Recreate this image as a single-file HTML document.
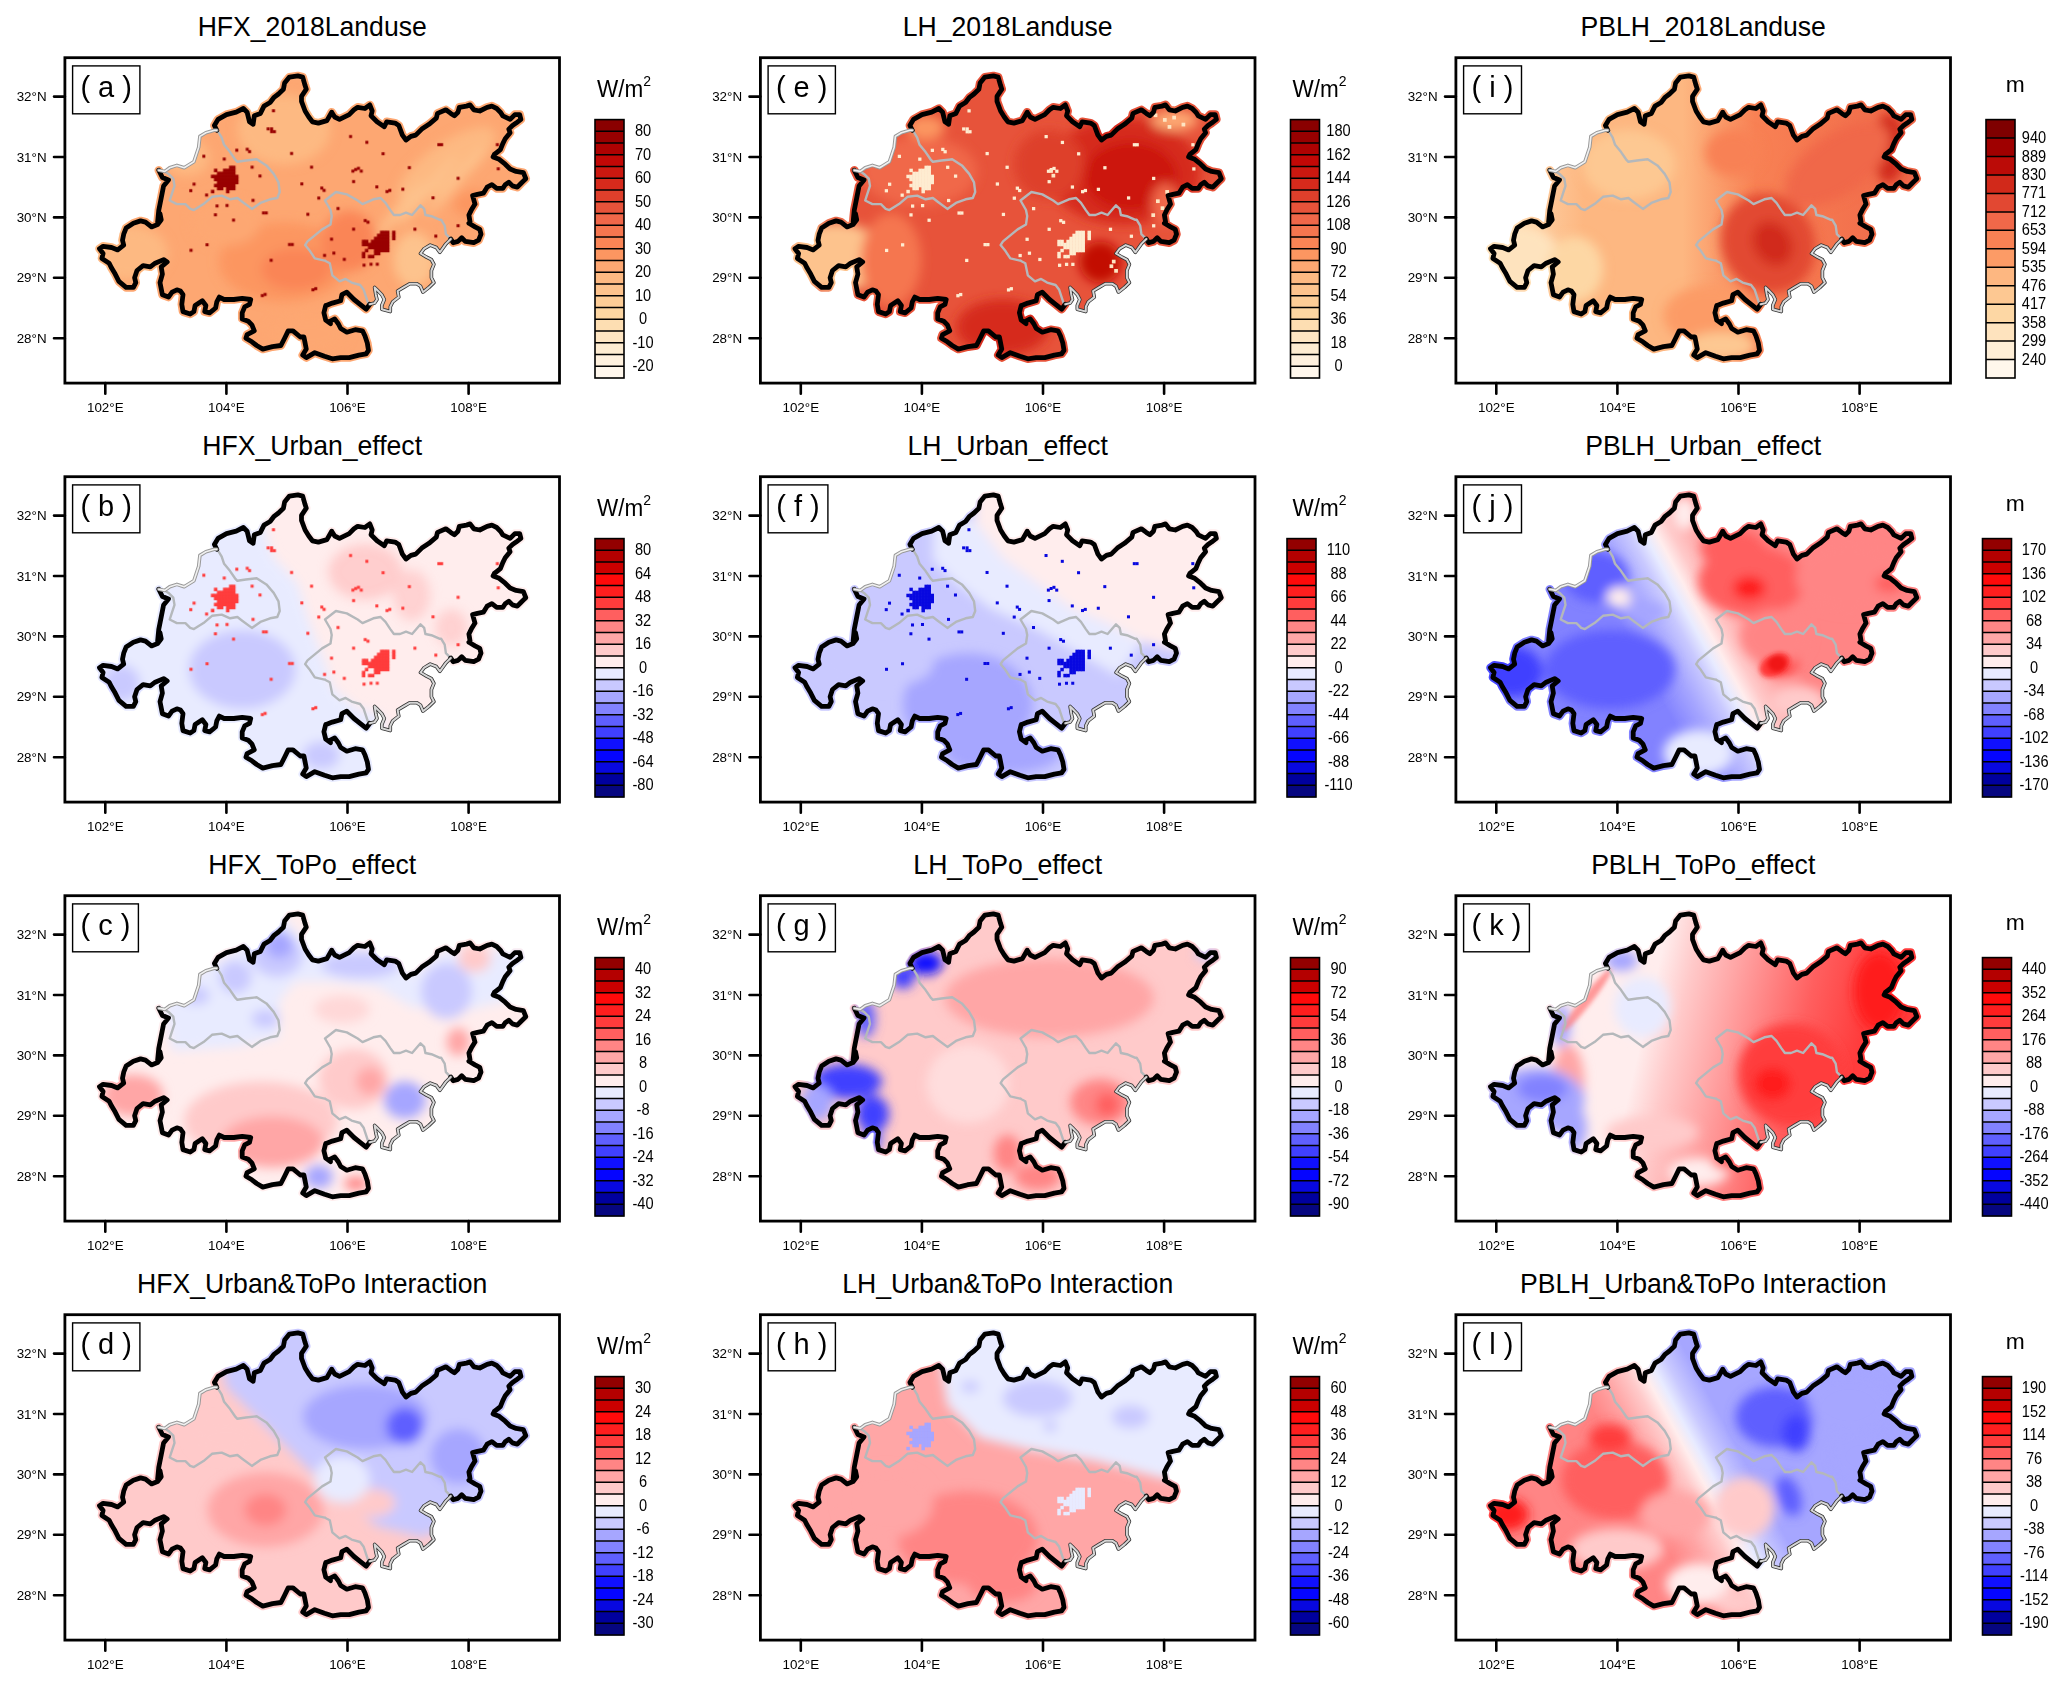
<!DOCTYPE html><html><head><meta charset="utf-8"><title>figure</title><style>html,body{margin:0;padding:0;background:#fff}svg{display:block}</style></head><body>
<svg width="2067" height="1687" viewBox="0 0 2067 1687">
<rect width="2067" height="1687" fill="#fff"/>
<defs>
<path id="reg" d="M216.8,130.3 L214.4,125.5 L218.0,119.4 L226.5,114.6 L236.2,112.2 L243.4,108.5 L247.1,112.2 L249.5,121.8 L253.1,124.3 L254.3,115.8 L260.4,113.4 L264.0,106.1 L270.1,102.5 L273.7,97.7 L278.5,94.0 L283.4,89.2 L284.6,83.1 L289.4,77.1 L297.9,75.9 L302.7,77.1 L305.1,85.6 L306.3,89.2 L301.5,96.4 L301.5,101.3 L305.1,111.0 L308.8,117.0 L312.4,121.8 L318.4,123.1 L326.9,120.6 L331.7,112.2 L331.7,112.2 L334.7,117.0 L339.5,119.4 L349.2,114.6 L354.0,109.8 L357.7,107.3 L364.9,108.5 L369.8,104.9 L372.2,111.0 L371.0,115.8 L377.0,121.8 L384.3,126.7 L386.7,121.8 L395.1,123.1 L398.8,125.5 L402.4,135.1 L406.0,140.0 L410.9,136.4 L415.7,135.1 L421.8,129.1 L429.0,124.3 L436.3,118.2 L437.5,113.4 L445.9,109.8 L450.8,113.4 L454.4,115.8 L458.0,112.2 L459.3,107.3 L466.5,106.1 L470.1,104.9 L473.8,109.8 L479.8,111.0 L487.1,107.3 L491.9,106.1 L496.7,108.5 L500.4,112.2 L502.8,115.8 L510.1,119.4 L514.9,114.6 L519.7,114.6 L520.9,119.4 L516.1,123.1 L512.5,125.5 L508.8,129.1 L510.1,132.7 L505.2,138.8 L502.8,143.6 L500.4,149.7 L494.3,154.5 L493.1,156.9 L499.2,159.3 L505.2,164.2 L510.1,169.0 L516.1,171.4 L523.4,172.6 L525.8,178.7 L520.9,183.5 L517.3,187.2 L512.5,185.9 L508.8,182.3 L505.2,184.7 L502.8,188.4 L496.7,188.4 L491.9,184.7 L487.1,187.2 L483.4,193.2 L477.4,194.4 L472.6,195.6 L475.0,204.1 L471.3,210.1 L468.9,215.0 L470.1,222.2 L468.9,223.3 L475.0,226.9 L479.8,229.4 L481.0,234.2 L478.6,240.2 L473.8,242.7 L465.3,241.4 L461.7,237.8 L458.0,241.4 L453.2,242.7 L450.8,239.0 L445.9,243.9 L439.9,252.3 L436.3,247.5 L430.2,245.1 L424.2,248.7 L420.5,253.5 L426.6,257.2 L431.4,259.6 L433.9,264.4 L431.4,270.5 L431.4,277.7 L433.9,282.6 L429.0,287.4 L423.0,292.2 L420.5,286.2 L416.9,283.8 L409.7,283.8 L403.6,287.4 L397.6,291.0 L398.8,297.1 L392.7,301.9 L390.3,306.8 L390.3,311.6 L381.8,309.2 L381.8,305.5 L384.3,299.5 L381.8,294.7 L377.0,289.8 L374.6,287.4 L375.8,294.7 L377.0,299.5 L374.6,303.1 L369.8,304.3 L366.1,309.2 L360.1,304.3 L354.0,299.5 L346.8,292.2 L341.9,294.7 L340.7,300.7 L332.3,303.1 L326.2,305.5 L325.7,305.5 L323.9,312.8 L325.7,320.1 L330.5,323.7 L329.8,321.3 L334.7,318.9 L338.3,323.7 L340.7,328.5 L346.8,332.2 L355.2,329.7 L362.5,330.9 L364.9,335.8 L367.3,343.0 L368.5,350.3 L366.1,353.9 L358.9,355.1 L349.2,357.6 L340.7,357.6 L332.3,358.8 L324.5,356.3 L314.8,352.7 L306.3,357.6 L302.7,355.1 L306.3,349.1 L305.1,343.0 L303.9,337.0 L300.3,337.0 L293.0,330.9 L288.2,330.9 L284.6,338.2 L280.9,345.5 L272.5,346.7 L262.8,349.1 L256.7,345.5 L251.9,341.8 L245.9,338.2 L247.1,334.6 L254.3,330.9 L251.9,324.9 L248.3,321.3 L242.2,318.9 L242.2,312.8 L244.7,306.8 L249.5,304.3 L250.7,299.5 L242.2,298.3 L233.8,299.5 L224.1,299.5 L219.3,297.1 L216.8,301.9 L215.6,308.0 L209.6,312.8 L204.7,311.6 L205.9,305.5 L202.3,300.7 L195.1,305.5 L193.9,311.6 L190.2,314.0 L183.0,311.6 L181.8,304.3 L183.0,294.7 L180.5,291.0 L176.9,289.8 L172.1,292.2 L168.5,297.1 L162.4,294.7 L160.0,282.6 L162.4,274.1 L161.2,266.8 L167.2,262.0 L163.6,259.6 L155.1,263.2 L150.3,266.8 L143.1,265.6 L137.0,270.5 L134.6,277.7 L135.8,282.6 L133.4,287.4 L126.1,287.4 L118.9,281.4 L115.2,274.1 L111.6,268.1 L109.2,263.2 L101.9,258.4 L103.1,253.5 L99.5,248.7 L103.1,246.3 L111.6,247.5 L117.7,249.9 L123.7,245.1 L122.5,240.2 L123.7,234.2 L126.1,228.1 L133.4,223.3 L140.6,220.9 L145.5,222.1 L151.5,226.9 L157.6,224.5 L161.2,219.7 L160.0,213.6 L157.6,222.2 L158.8,210.1 L161.2,198.0 L163.6,185.9 L168.5,179.9 L162.4,177.5 L158.8,170.2 L164.8,171.4 L169.7,167.8 L176.9,165.4 L184.2,167.8 L193.9,161.8 L196.3,154.5 L198.7,147.2 L199.9,136.4 L205.9,132.7 L214.4,130.3Z"/>
<clipPath id="clip"><use href="#reg"/></clipPath>
<mask id="fr" maskUnits="userSpaceOnUse" x="0" y="0" width="700" height="420"><use href="#reg" fill="#fff"/><g fill="none" stroke="#fff" stroke-width="8.5" stroke-linejoin="round" stroke-linecap="round"><polyline points="216.8,130.3 214.4,125.5 218.0,119.4 226.5,114.6 236.2,112.2 243.4,108.5 247.1,112.2 249.5,121.8 253.1,124.3 254.3,115.8 260.4,113.4 264.0,106.1 270.1,102.5 273.7,97.7 278.5,94.0 283.4,89.2 284.6,83.1 289.4,77.1 297.9,75.9 302.7,77.1 305.1,85.6 306.3,89.2 301.5,96.4 301.5,101.3 305.1,111.0 308.8,117.0 312.4,121.8 318.4,123.1 326.9,120.6 331.7,112.2 331.7,112.2 334.7,117.0 339.5,119.4 349.2,114.6 354.0,109.8 357.7,107.3 364.9,108.5 369.8,104.9 372.2,111.0 371.0,115.8 377.0,121.8 384.3,126.7 386.7,121.8 395.1,123.1 398.8,125.5 402.4,135.1 406.0,140.0 410.9,136.4 415.7,135.1 421.8,129.1 429.0,124.3 436.3,118.2 437.5,113.4 445.9,109.8 450.8,113.4 454.4,115.8 458.0,112.2 459.3,107.3 466.5,106.1 470.1,104.9 473.8,109.8 479.8,111.0 487.1,107.3 491.9,106.1 496.7,108.5 500.4,112.2 502.8,115.8 510.1,119.4 514.9,114.6 519.7,114.6 520.9,119.4 516.1,123.1 512.5,125.5 508.8,129.1 510.1,132.7 505.2,138.8 502.8,143.6 500.4,149.7 494.3,154.5 493.1,156.9 499.2,159.3 505.2,164.2 510.1,169.0 516.1,171.4 523.4,172.6 525.8,178.7 520.9,183.5 517.3,187.2 512.5,185.9 508.8,182.3 505.2,184.7 502.8,188.4 496.7,188.4 491.9,184.7 487.1,187.2 483.4,193.2 477.4,194.4 472.6,195.6 475.0,204.1 471.3,210.1 468.9,215.0 470.1,222.2 468.9,223.3 475.0,226.9 479.8,229.4 481.0,234.2 478.6,240.2 473.8,242.7 465.3,241.4 461.7,237.8 458.0,241.4 453.2,242.7 450.8,239.0"/><polyline points="369.8,304.3 366.1,309.2 360.1,304.3 354.0,299.5 346.8,292.2 341.9,294.7 340.7,300.7 332.3,303.1 326.2,305.5 325.7,305.5 323.9,312.8 325.7,320.1 330.5,323.7 329.8,321.3 334.7,318.9 338.3,323.7 340.7,328.5 346.8,332.2 355.2,329.7 362.5,330.9 364.9,335.8 367.3,343.0 368.5,350.3 366.1,353.9 358.9,355.1 349.2,357.6 340.7,357.6 332.3,358.8 324.5,356.3 314.8,352.7 306.3,357.6 302.7,355.1 306.3,349.1 305.1,343.0 303.9,337.0 300.3,337.0 293.0,330.9 288.2,330.9 284.6,338.2 280.9,345.5 272.5,346.7 262.8,349.1 256.7,345.5 251.9,341.8 245.9,338.2 247.1,334.6 254.3,330.9 251.9,324.9 248.3,321.3 242.2,318.9 242.2,312.8 244.7,306.8 249.5,304.3 250.7,299.5 242.2,298.3 233.8,299.5 224.1,299.5 219.3,297.1 216.8,301.9 215.6,308.0 209.6,312.8 204.7,311.6 205.9,305.5 202.3,300.7 195.1,305.5 193.9,311.6 190.2,314.0 183.0,311.6 181.8,304.3 183.0,294.7 180.5,291.0 176.9,289.8 172.1,292.2 168.5,297.1 162.4,294.7 160.0,282.6 162.4,274.1 161.2,266.8 167.2,262.0 163.6,259.6 155.1,263.2 150.3,266.8 143.1,265.6 137.0,270.5 134.6,277.7 135.8,282.6 133.4,287.4 126.1,287.4 118.9,281.4 115.2,274.1 111.6,268.1 109.2,263.2 101.9,258.4 103.1,253.5 99.5,248.7 103.1,246.3 111.6,247.5 117.7,249.9 123.7,245.1 122.5,240.2 123.7,234.2 126.1,228.1 133.4,223.3 140.6,220.9 145.5,222.1 151.5,226.9 157.6,224.5 161.2,219.7 160.0,213.6 157.6,222.2 158.8,210.1 161.2,198.0 163.6,185.9 168.5,179.9 162.4,177.5 158.8,170.2"/></g></mask>
<filter id="bl" x="-20%" y="-20%" width="140%" height="140%"><feGaussianBlur stdDeviation="22"/></filter><filter id="bl2" x="-20%" y="-20%" width="140%" height="140%"><feGaussianBlur stdDeviation="10"/></filter><linearGradient id="gi" gradientUnits="userSpaceOnUse" x1="100" y1="0" x2="1950" y2="0"><stop offset="0" stop-color="#fee3be"/><stop offset="0.22" stop-color="#fdb781"/><stop offset="0.45" stop-color="#fdb781"/><stop offset="0.62" stop-color="#f88154"/><stop offset="1" stop-color="#f06849"/></linearGradient><linearGradient id="gk" gradientUnits="userSpaceOnUse" x1="780" y1="500" x2="1900" y2="760"><stop offset="0" stop-color="#ffeded"/><stop offset="0.12" stop-color="#ffcaca"/><stop offset="0.28" stop-color="#ffa6a6"/><stop offset="0.42" stop-color="#ff8585"/><stop offset="0.58" stop-color="#ff5f5f"/><stop offset="0.8" stop-color="#ff3c3c"/><stop offset="1" stop-color="#ff3c3c"/></linearGradient><linearGradient id="gj" gradientUnits="userSpaceOnUse" x1="740" y1="760" x2="1260" y2="480"><stop offset="0" stop-color="#8282ff"/><stop offset="0.2" stop-color="#a6a6ff"/><stop offset="0.36" stop-color="#c9c9ff"/><stop offset="0.46" stop-color="#e8ebff"/><stop offset="0.54" stop-color="#ffeded"/><stop offset="0.64" stop-color="#ffcaca"/><stop offset="0.8" stop-color="#ffa6a6"/><stop offset="1" stop-color="#ff8585"/></linearGradient><linearGradient id="gl" gradientUnits="userSpaceOnUse" x1="760" y1="800" x2="1280" y2="520"><stop offset="0" stop-color="#ff8585"/><stop offset="0.2" stop-color="#ffa6a6"/><stop offset="0.36" stop-color="#ffcaca"/><stop offset="0.46" stop-color="#ffeded"/><stop offset="0.54" stop-color="#e8ebff"/><stop offset="0.64" stop-color="#c9c9ff"/><stop offset="0.8" stop-color="#a6a6ff"/><stop offset="1" stop-color="#a6a6ff"/></linearGradient>
<g id="lines" fill="none" stroke-linejoin="round" stroke-linecap="round">
<polyline points="218.0,131.5 221.7,137.6 224.1,144.8 230.1,152.1 235.0,159.3 237.4,161.8 245.9,160.5 256.7,159.3 266.4,165.4 273.7,173.9 278.5,182.3 279.7,192.0 277.3,198.0 270.1,199.3 260.4,202.9 251.9,208.9 242.2,201.7 237.4,198.0 230.1,199.3 221.7,195.6 212.0,196.8 203.5,204.1 193.9,210.1 190.2,208.9 185.4,204.1 176.9,204.1 169.7,200.5 172.1,193.2 174.5,185.9 173.3,178.7 168.5,173.9 164.8,171.4" stroke="#b4b8bb" stroke-width="2.4"/>
<polyline points="368.5,304.3 366.1,297.1 363.7,289.8 360.1,285.0 351.6,282.6 345.6,278.9 339.5,281.4 332.3,275.3 329.8,263.2 325.0,260.8 325.7,260.8 314.8,258.4 310.0,251.1 305.1,245.1 307.5,241.4 314.8,235.4 322.1,229.4 330.5,224.5 331.7,216.0 330.5,210.0 325.0,200.5 335.9,192.0 346.8,194.4 357.7,200.5 362.5,204.1 373.4,199.3 380.6,198.0 385.5,202.9 390.3,210.1 393.9,215.0 400.0,215.0 406.0,212.6 412.1,215.0 420.5,205.3 424.2,208.9 425.4,215.0 431.4,216.2 439.9,219.8 441.1,219.7 444.7,225.7 445.9,234.2 449.6,237.8 450.8,239.0" stroke="#b4b8bb" stroke-width="2.4"/>
<polyline points="216.8,130.3 214.4,125.5 218.0,119.4 226.5,114.6 236.2,112.2 243.4,108.5 247.1,112.2 249.5,121.8 253.1,124.3 254.3,115.8 260.4,113.4 264.0,106.1 270.1,102.5 273.7,97.7 278.5,94.0 283.4,89.2 284.6,83.1 289.4,77.1 297.9,75.9 302.7,77.1 305.1,85.6 306.3,89.2 301.5,96.4 301.5,101.3 305.1,111.0 308.8,117.0 312.4,121.8 318.4,123.1 326.9,120.6 331.7,112.2 331.7,112.2 334.7,117.0 339.5,119.4 349.2,114.6 354.0,109.8 357.7,107.3 364.9,108.5 369.8,104.9 372.2,111.0 371.0,115.8 377.0,121.8 384.3,126.7 386.7,121.8 395.1,123.1 398.8,125.5 402.4,135.1 406.0,140.0 410.9,136.4 415.7,135.1 421.8,129.1 429.0,124.3 436.3,118.2 437.5,113.4 445.9,109.8 450.8,113.4 454.4,115.8 458.0,112.2 459.3,107.3 466.5,106.1 470.1,104.9 473.8,109.8 479.8,111.0 487.1,107.3 491.9,106.1 496.7,108.5 500.4,112.2 502.8,115.8 510.1,119.4 514.9,114.6 519.7,114.6 520.9,119.4 516.1,123.1 512.5,125.5 508.8,129.1 510.1,132.7 505.2,138.8 502.8,143.6 500.4,149.7 494.3,154.5 493.1,156.9 499.2,159.3 505.2,164.2 510.1,169.0 516.1,171.4 523.4,172.6 525.8,178.7 520.9,183.5 517.3,187.2 512.5,185.9 508.8,182.3 505.2,184.7 502.8,188.4 496.7,188.4 491.9,184.7 487.1,187.2 483.4,193.2 477.4,194.4 472.6,195.6 475.0,204.1 471.3,210.1 468.9,215.0 470.1,222.2 468.9,223.3 475.0,226.9 479.8,229.4 481.0,234.2 478.6,240.2 473.8,242.7 465.3,241.4 461.7,237.8 458.0,241.4 453.2,242.7 450.8,239.0" stroke="#000" stroke-width="4.8"/>
<polyline points="369.8,304.3 366.1,309.2 360.1,304.3 354.0,299.5 346.8,292.2 341.9,294.7 340.7,300.7 332.3,303.1 326.2,305.5 325.7,305.5 323.9,312.8 325.7,320.1 330.5,323.7 329.8,321.3 334.7,318.9 338.3,323.7 340.7,328.5 346.8,332.2 355.2,329.7 362.5,330.9 364.9,335.8 367.3,343.0 368.5,350.3 366.1,353.9 358.9,355.1 349.2,357.6 340.7,357.6 332.3,358.8 324.5,356.3 314.8,352.7 306.3,357.6 302.7,355.1 306.3,349.1 305.1,343.0 303.9,337.0 300.3,337.0 293.0,330.9 288.2,330.9 284.6,338.2 280.9,345.5 272.5,346.7 262.8,349.1 256.7,345.5 251.9,341.8 245.9,338.2 247.1,334.6 254.3,330.9 251.9,324.9 248.3,321.3 242.2,318.9 242.2,312.8 244.7,306.8 249.5,304.3 250.7,299.5 242.2,298.3 233.8,299.5 224.1,299.5 219.3,297.1 216.8,301.9 215.6,308.0 209.6,312.8 204.7,311.6 205.9,305.5 202.3,300.7 195.1,305.5 193.9,311.6 190.2,314.0 183.0,311.6 181.8,304.3 183.0,294.7 180.5,291.0 176.9,289.8 172.1,292.2 168.5,297.1 162.4,294.7 160.0,282.6 162.4,274.1 161.2,266.8 167.2,262.0 163.6,259.6 155.1,263.2 150.3,266.8 143.1,265.6 137.0,270.5 134.6,277.7 135.8,282.6 133.4,287.4 126.1,287.4 118.9,281.4 115.2,274.1 111.6,268.1 109.2,263.2 101.9,258.4 103.1,253.5 99.5,248.7 103.1,246.3 111.6,247.5 117.7,249.9 123.7,245.1 122.5,240.2 123.7,234.2 126.1,228.1 133.4,223.3 140.6,220.9 145.5,222.1 151.5,226.9 157.6,224.5 161.2,219.7 160.0,213.6 157.6,222.2 158.8,210.1 161.2,198.0 163.6,185.9 168.5,179.9 162.4,177.5 158.8,170.2" stroke="#000" stroke-width="4.8"/>
<polyline points="450.8,239.0 445.9,243.9 439.9,252.3 436.3,247.5 430.2,245.1 424.2,248.7 420.5,253.5 426.6,257.2 431.4,259.6 433.9,264.4 431.4,270.5 431.4,277.7 433.9,282.6 429.0,287.4 423.0,292.2 420.5,286.2 416.9,283.8 409.7,283.8 403.6,287.4 397.6,291.0 398.8,297.1 392.7,301.9 390.3,306.8 390.3,311.6 381.8,309.2 381.8,305.5 384.3,299.5 381.8,294.7 377.0,289.8 374.6,287.4 375.8,294.7 377.0,299.5 374.6,303.1 369.8,304.3" stroke="#333" stroke-width="3.6"/>
<polyline points="450.8,239.0 445.9,243.9 439.9,252.3 436.3,247.5 430.2,245.1 424.2,248.7 420.5,253.5 426.6,257.2 431.4,259.6 433.9,264.4 431.4,270.5 431.4,277.7 433.9,282.6 429.0,287.4 423.0,292.2 420.5,286.2 416.9,283.8 409.7,283.8 403.6,287.4 397.6,291.0 398.8,297.1 392.7,301.9 390.3,306.8 390.3,311.6 381.8,309.2 381.8,305.5 384.3,299.5 381.8,294.7 377.0,289.8 374.6,287.4 375.8,294.7 377.0,299.5 374.6,303.1 369.8,304.3" stroke="#d6d6d6" stroke-width="2"/>
<polyline points="158.8,170.2 164.8,171.4 169.7,167.8 176.9,165.4 184.2,167.8 193.9,161.8 196.3,154.5 198.7,147.2 199.9,136.4 205.9,132.7 214.4,130.3 216.8,130.3" stroke="#999" stroke-width="3.6"/>
<polyline points="158.8,170.2 164.8,171.4 169.7,167.8 176.9,165.4 184.2,167.8 193.9,161.8 196.3,154.5 198.7,147.2 199.9,136.4 205.9,132.7 214.4,130.3 216.8,130.3" stroke="#f0f0f0" stroke-width="1.6"/>
</g>
</defs>
<g transform="translate(0.0,0.0)">
<text transform="translate(312.2,36.1) scale(1,1.06)" text-anchor="middle" font-size="26.6" font-family="Liberation Sans, Arial, Helvetica, sans-serif">HFX_2018Landuse</text>
<g mask="url(#fr)"><g transform="translate(75,60) scale(0.23223)"><rect x="0" y="0" width="2100" height="1400" fill="#fda772"/><g filter="url(#bl)"><ellipse cx="900" cy="300" rx="200" ry="150" fill="#fdb982"/><ellipse cx="480" cy="420" rx="100" ry="80" fill="#fdb982"/><ellipse cx="230" cy="830" rx="170" ry="120" fill="#fdb982"/><ellipse cx="900" cy="870" rx="280" ry="170" fill="#fc9661"/><ellipse cx="950" cy="900" rx="150" ry="90" fill="#fa8556"/><ellipse cx="1180" cy="780" rx="120" ry="130" fill="#fa8556"/><ellipse cx="1460" cy="860" rx="90" ry="120" fill="#fdc38d"/><ellipse cx="1600" cy="450" rx="250" ry="90" fill="#fdb982" transform="rotate(-35 1600 450)"/><ellipse cx="1720" cy="620" rx="90" ry="60" fill="#fc9661"/><ellipse cx="1520" cy="560" rx="200" ry="22" fill="#fdc38d" transform="rotate(-50 1520 560)"/><ellipse cx="1640" cy="520" rx="200" ry="20" fill="#fdc38d" transform="rotate(-50 1640 520)"/><ellipse cx="1400" cy="640" rx="160" ry="20" fill="#fdc38d" transform="rotate(-50 1400 640)"/><ellipse cx="1000" cy="1180" rx="170" ry="80" fill="#fda772"/><ellipse cx="650" cy="700" rx="150" ry="100" fill="#fda772"/></g><g fill="#990000"><rect x="663" y="455" width="15" height="15"/><rect x="676" y="455" width="15" height="15"/><rect x="598" y="468" width="15" height="15"/><rect x="637" y="468" width="15" height="15"/><rect x="650" y="468" width="15" height="15"/><rect x="663" y="468" width="15" height="15"/><rect x="676" y="468" width="15" height="15"/><rect x="611" y="481" width="15" height="15"/><rect x="624" y="481" width="15" height="15"/><rect x="637" y="481" width="15" height="15"/><rect x="650" y="481" width="15" height="15"/><rect x="663" y="481" width="15" height="15"/><rect x="676" y="481" width="15" height="15"/><rect x="585" y="494" width="15" height="15"/><rect x="598" y="494" width="15" height="15"/><rect x="611" y="494" width="15" height="15"/><rect x="624" y="494" width="15" height="15"/><rect x="637" y="494" width="15" height="15"/><rect x="650" y="494" width="15" height="15"/><rect x="663" y="494" width="15" height="15"/><rect x="676" y="494" width="15" height="15"/><rect x="689" y="494" width="15" height="15"/><rect x="598" y="507" width="15" height="15"/><rect x="611" y="507" width="15" height="15"/><rect x="624" y="507" width="15" height="15"/><rect x="637" y="507" width="15" height="15"/><rect x="650" y="507" width="15" height="15"/><rect x="663" y="507" width="15" height="15"/><rect x="676" y="507" width="15" height="15"/><rect x="689" y="507" width="15" height="15"/><rect x="611" y="520" width="15" height="15"/><rect x="624" y="520" width="15" height="15"/><rect x="637" y="520" width="15" height="15"/><rect x="650" y="520" width="15" height="15"/><rect x="663" y="520" width="15" height="15"/><rect x="676" y="520" width="15" height="15"/><rect x="689" y="520" width="15" height="15"/><rect x="598" y="533" width="15" height="15"/><rect x="611" y="533" width="15" height="15"/><rect x="624" y="533" width="15" height="15"/><rect x="637" y="533" width="15" height="15"/><rect x="650" y="533" width="15" height="15"/><rect x="663" y="533" width="15" height="15"/><rect x="676" y="533" width="15" height="15"/><rect x="611" y="546" width="15" height="15"/><rect x="624" y="546" width="15" height="15"/><rect x="650" y="546" width="15" height="15"/><rect x="663" y="546" width="15" height="15"/><rect x="676" y="546" width="15" height="15"/><rect x="585" y="559" width="15" height="15"/><rect x="650" y="559" width="15" height="15"/><rect x="1313" y="735" width="15" height="15"/><rect x="1326" y="735" width="15" height="15"/><rect x="1339" y="735" width="15" height="15"/><rect x="1365" y="735" width="15" height="15"/><rect x="1300" y="748" width="15" height="15"/><rect x="1313" y="748" width="15" height="15"/><rect x="1326" y="748" width="15" height="15"/><rect x="1339" y="748" width="15" height="15"/><rect x="1365" y="748" width="15" height="15"/><rect x="1287" y="761" width="15" height="15"/><rect x="1300" y="761" width="15" height="15"/><rect x="1313" y="761" width="15" height="15"/><rect x="1326" y="761" width="15" height="15"/><rect x="1339" y="761" width="15" height="15"/><rect x="1365" y="761" width="15" height="15"/><rect x="1235" y="774" width="15" height="15"/><rect x="1248" y="774" width="15" height="15"/><rect x="1274" y="774" width="15" height="15"/><rect x="1287" y="774" width="15" height="15"/><rect x="1300" y="774" width="15" height="15"/><rect x="1313" y="774" width="15" height="15"/><rect x="1326" y="774" width="15" height="15"/><rect x="1339" y="774" width="15" height="15"/><rect x="1235" y="787" width="15" height="15"/><rect x="1248" y="787" width="15" height="15"/><rect x="1261" y="787" width="15" height="15"/><rect x="1274" y="787" width="15" height="15"/><rect x="1287" y="787" width="15" height="15"/><rect x="1300" y="787" width="15" height="15"/><rect x="1313" y="787" width="15" height="15"/><rect x="1326" y="787" width="15" height="15"/><rect x="1339" y="787" width="15" height="15"/><rect x="1261" y="800" width="15" height="15"/><rect x="1274" y="800" width="15" height="15"/><rect x="1287" y="800" width="15" height="15"/><rect x="1300" y="800" width="15" height="15"/><rect x="1313" y="800" width="15" height="15"/><rect x="1326" y="800" width="15" height="15"/><rect x="1339" y="800" width="15" height="15"/><rect x="1248" y="813" width="15" height="15"/><rect x="1287" y="813" width="15" height="15"/><rect x="1300" y="813" width="15" height="15"/><rect x="1313" y="813" width="15" height="15"/><rect x="1326" y="813" width="15" height="15"/><rect x="1339" y="813" width="15" height="15"/><rect x="1235" y="826" width="15" height="15"/><rect x="1287" y="826" width="15" height="15"/><rect x="1300" y="826" width="15" height="15"/><rect x="1235" y="839" width="15" height="15"/><rect x="1261" y="839" width="15" height="15"/><rect x="1274" y="839" width="15" height="15"/></g><g fill="#990000"><rect x="825" y="290" width="13" height="13"/><rect x="840" y="290" width="13" height="13"/><rect x="840" y="302" width="13" height="13"/><rect x="852" y="302" width="13" height="13"/><rect x="735" y="378" width="13" height="13"/><rect x="745" y="388" width="13" height="13"/><rect x="690" y="382" width="13" height="13"/><rect x="636" y="420" width="13" height="13"/><rect x="548" y="408" width="13" height="13"/><rect x="756" y="455" width="13" height="13"/><rect x="790" y="493" width="13" height="13"/><rect x="506" y="528" width="13" height="13"/><rect x="492" y="556" width="13" height="13"/><rect x="560" y="575" width="13" height="13"/><rect x="605" y="622" width="13" height="13"/><rect x="648" y="620" width="13" height="13"/><rect x="598" y="660" width="13" height="13"/><rect x="676" y="683" width="13" height="13"/><rect x="760" y="598" width="13" height="13"/><rect x="805" y="652" width="13" height="13"/><rect x="817" y="652" width="13" height="13"/><rect x="926" y="396" width="13" height="13"/><rect x="1012" y="455" width="13" height="13"/><rect x="970" y="527" width="13" height="13"/><rect x="1056" y="545" width="13" height="13"/><rect x="1066" y="555" width="13" height="13"/><rect x="1043" y="588" width="13" height="13"/><rect x="996" y="658" width="13" height="13"/><rect x="1126" y="633" width="13" height="13"/><rect x="1180" y="323" width="13" height="13"/><rect x="1250" y="348" width="13" height="13"/><rect x="1320" y="397" width="13" height="13"/><rect x="1190" y="472" width="13" height="13"/><rect x="1202" y="465" width="13" height="13"/><rect x="1214" y="460" width="13" height="13"/><rect x="1226" y="472" width="13" height="13"/><rect x="1193" y="517" width="13" height="13"/><rect x="1293" y="540" width="13" height="13"/><rect x="1337" y="560" width="13" height="13"/><rect x="1349" y="555" width="13" height="13"/><rect x="1405" y="550" width="13" height="13"/><rect x="1433" y="457" width="13" height="13"/><rect x="1560" y="358" width="13" height="13"/><rect x="1572" y="358" width="13" height="13"/><rect x="1812" y="358" width="13" height="13"/><rect x="1816" y="462" width="13" height="13"/><rect x="1643" y="503" width="13" height="13"/><rect x="1243" y="685" width="13" height="13"/><rect x="1255" y="692" width="13" height="13"/><rect x="1193" y="722" width="13" height="13"/><rect x="1457" y="722" width="13" height="13"/><rect x="1547" y="752" width="13" height="13"/><rect x="1643" y="707" width="13" height="13"/><rect x="1098" y="765" width="13" height="13"/><rect x="1068" y="835" width="13" height="13"/><rect x="1108" y="825" width="13" height="13"/><rect x="1153" y="852" width="13" height="13"/><rect x="1238" y="877" width="13" height="13"/><rect x="1268" y="873" width="13" height="13"/><rect x="1295" y="873" width="13" height="13"/><rect x="917" y="788" width="13" height="13"/><rect x="929" y="788" width="13" height="13"/><rect x="838" y="856" width="13" height="13"/><rect x="562" y="789" width="13" height="13"/><rect x="493" y="813" width="13" height="13"/><rect x="1018" y="983" width="13" height="13"/><rect x="1030" y="978" width="13" height="13"/><rect x="800" y="1008" width="13" height="13"/><rect x="812" y="1003" width="13" height="13"/><rect x="1535" y="587" width="13" height="13"/><rect x="848" y="212" width="13" height="13"/></g></g></g>
<use href="#lines"/>
<rect x="64.9" y="57.7" width="494.6" height="325.4" fill="none" stroke="#000" stroke-width="2.8"/>
<rect x="72.6" y="65.9" width="67.3" height="47.9" fill="#fff" stroke="#000" stroke-width="1.4"/>
<text x="106.2" y="97.3" text-anchor="middle" font-size="29" font-family="Liberation Sans, Arial, Helvetica, sans-serif" xml:space="preserve">( a )</text>
<path d="M54,96.6H64.9M54,157.0H64.9M54,217.4H64.9M54,277.8H64.9M54,338.2H64.9M105.3,383.1V393.7M226.4,383.1V393.7M347.5,383.1V393.7M468.6,383.1V393.7" stroke="#000" stroke-width="2.6" stroke-linecap="round"/>
<text x="46.6" y="101.2" text-anchor="end" font-size="13.4" font-family="Liberation Sans, Arial, Helvetica, sans-serif">32°N</text>
<text x="46.6" y="161.6" text-anchor="end" font-size="13.4" font-family="Liberation Sans, Arial, Helvetica, sans-serif">31°N</text>
<text x="46.6" y="222.0" text-anchor="end" font-size="13.4" font-family="Liberation Sans, Arial, Helvetica, sans-serif">30°N</text>
<text x="46.6" y="282.4" text-anchor="end" font-size="13.4" font-family="Liberation Sans, Arial, Helvetica, sans-serif">29°N</text>
<text x="46.6" y="342.8" text-anchor="end" font-size="13.4" font-family="Liberation Sans, Arial, Helvetica, sans-serif">28°N</text>
<text x="105.3" y="412.4" text-anchor="middle" font-size="13.4" font-family="Liberation Sans, Arial, Helvetica, sans-serif">102°E</text>
<text x="226.4" y="412.4" text-anchor="middle" font-size="13.4" font-family="Liberation Sans, Arial, Helvetica, sans-serif">104°E</text>
<text x="347.5" y="412.4" text-anchor="middle" font-size="13.4" font-family="Liberation Sans, Arial, Helvetica, sans-serif">106°E</text>
<text x="468.6" y="412.4" text-anchor="middle" font-size="13.4" font-family="Liberation Sans, Arial, Helvetica, sans-serif">108°E</text>
<rect x="595.0" y="366.25" width="29.0" height="12.05" fill="#fff7ec"/>
<rect x="595.0" y="354.51" width="29.0" height="12.05" fill="#fff1de"/>
<rect x="595.0" y="342.76" width="29.0" height="12.05" fill="#feecd1"/>
<rect x="595.0" y="331.02" width="29.0" height="12.05" fill="#fee5c2"/>
<rect x="595.0" y="319.27" width="29.0" height="12.05" fill="#fddeb2"/>
<rect x="595.0" y="307.53" width="29.0" height="12.05" fill="#fdd6a2"/>
<rect x="595.0" y="295.78" width="29.0" height="12.05" fill="#fdcd97"/>
<rect x="595.0" y="284.04" width="29.0" height="12.05" fill="#fdc38d"/>
<rect x="595.0" y="272.29" width="29.0" height="12.05" fill="#fdb982"/>
<rect x="595.0" y="260.55" width="29.0" height="12.05" fill="#fda772"/>
<rect x="595.0" y="248.80" width="29.0" height="12.05" fill="#fc9661"/>
<rect x="595.0" y="237.05" width="29.0" height="12.05" fill="#fa8556"/>
<rect x="595.0" y="225.31" width="29.0" height="12.05" fill="#f5764f"/>
<rect x="595.0" y="213.56" width="29.0" height="12.05" fill="#f06749"/>
<rect x="595.0" y="201.82" width="29.0" height="12.05" fill="#e7533a"/>
<rect x="595.0" y="190.07" width="29.0" height="12.05" fill="#de3f2b"/>
<rect x="595.0" y="178.33" width="29.0" height="12.05" fill="#d62a1c"/>
<rect x="595.0" y="166.58" width="29.0" height="12.05" fill="#cc1810"/>
<rect x="595.0" y="154.84" width="29.0" height="12.05" fill="#c20806"/>
<rect x="595.0" y="143.09" width="29.0" height="12.05" fill="#ae0202"/>
<rect x="595.0" y="131.35" width="29.0" height="12.05" fill="#990000"/>
<rect x="595.0" y="119.60" width="29.0" height="12.05" fill="#8a0000"/>
<path d="M595.0,131.35H624.0M595.0,143.09H624.0M595.0,154.84H624.0M595.0,166.58H624.0M595.0,178.33H624.0M595.0,190.07H624.0M595.0,201.82H624.0M595.0,213.56H624.0M595.0,225.31H624.0M595.0,237.05H624.0M595.0,248.80H624.0M595.0,260.55H624.0M595.0,272.29H624.0M595.0,284.04H624.0M595.0,295.78H624.0M595.0,307.53H624.0M595.0,319.27H624.0M595.0,331.02H624.0M595.0,342.76H624.0M595.0,354.51H624.0M595.0,366.25H624.0" stroke="#000" stroke-width="1.5"/>
<rect x="595.0" y="119.6" width="29.0" height="258.4" fill="none" stroke="#000" stroke-width="1.6"/>
<text transform="translate(643,136.35) scale(1,1.09)" text-anchor="middle" font-size="14.6" font-family="Liberation Sans, Arial, Helvetica, sans-serif">80</text>
<text transform="translate(643,159.84) scale(1,1.09)" text-anchor="middle" font-size="14.6" font-family="Liberation Sans, Arial, Helvetica, sans-serif">70</text>
<text transform="translate(643,183.33) scale(1,1.09)" text-anchor="middle" font-size="14.6" font-family="Liberation Sans, Arial, Helvetica, sans-serif">60</text>
<text transform="translate(643,206.82) scale(1,1.09)" text-anchor="middle" font-size="14.6" font-family="Liberation Sans, Arial, Helvetica, sans-serif">50</text>
<text transform="translate(643,230.31) scale(1,1.09)" text-anchor="middle" font-size="14.6" font-family="Liberation Sans, Arial, Helvetica, sans-serif">40</text>
<text transform="translate(643,253.80) scale(1,1.09)" text-anchor="middle" font-size="14.6" font-family="Liberation Sans, Arial, Helvetica, sans-serif">30</text>
<text transform="translate(643,277.29) scale(1,1.09)" text-anchor="middle" font-size="14.6" font-family="Liberation Sans, Arial, Helvetica, sans-serif">20</text>
<text transform="translate(643,300.78) scale(1,1.09)" text-anchor="middle" font-size="14.6" font-family="Liberation Sans, Arial, Helvetica, sans-serif">10</text>
<text transform="translate(643,324.27) scale(1,1.09)" text-anchor="middle" font-size="14.6" font-family="Liberation Sans, Arial, Helvetica, sans-serif">0</text>
<text transform="translate(643,347.76) scale(1,1.09)" text-anchor="middle" font-size="14.6" font-family="Liberation Sans, Arial, Helvetica, sans-serif">-10</text>
<text transform="translate(643,371.25) scale(1,1.09)" text-anchor="middle" font-size="14.6" font-family="Liberation Sans, Arial, Helvetica, sans-serif">-20</text>
<text transform="translate(597,96.6) scale(1,1.09)" font-size="22.5" font-family="Liberation Sans, Arial, Helvetica, sans-serif">W/m<tspan font-size="14" dy="-9.6">2</tspan></text>
</g>
<g transform="translate(0.0,419.0)">
<text transform="translate(312.2,36.1) scale(1,1.06)" text-anchor="middle" font-size="26.6" font-family="Liberation Sans, Arial, Helvetica, sans-serif">HFX_Urban_effect</text>
<g mask="url(#fr)"><g transform="translate(75,60) scale(0.23223)"><rect x="0" y="0" width="2100" height="1400" fill="#ffeded"/><g filter="url(#bl)"><polygon points="0,0 760,0 850,330 960,450 1010,620 1080,800 1110,900 1220,990 1330,1020 1330,1400 0,1400" fill="#e8ebff"/><ellipse cx="720" cy="820" rx="230" ry="170" fill="#c9c9ff"/><ellipse cx="200" cy="880" rx="80" ry="80" fill="#c9c9ff"/><ellipse cx="1060" cy="1190" rx="80" ry="60" fill="#c9c9ff"/><ellipse cx="1250" cy="400" rx="160" ry="120" fill="#ffcaca" opacity="0.9"/><ellipse cx="1450" cy="500" rx="80" ry="110" fill="#ffcaca" opacity="0.8"/><ellipse cx="1620" cy="640" rx="70" ry="80" fill="#ffcaca" opacity="0.8"/></g><g fill="#ff3c3c"><rect x="663" y="455" width="15" height="15"/><rect x="676" y="455" width="15" height="15"/><rect x="598" y="468" width="15" height="15"/><rect x="637" y="468" width="15" height="15"/><rect x="650" y="468" width="15" height="15"/><rect x="663" y="468" width="15" height="15"/><rect x="676" y="468" width="15" height="15"/><rect x="611" y="481" width="15" height="15"/><rect x="624" y="481" width="15" height="15"/><rect x="637" y="481" width="15" height="15"/><rect x="650" y="481" width="15" height="15"/><rect x="663" y="481" width="15" height="15"/><rect x="676" y="481" width="15" height="15"/><rect x="585" y="494" width="15" height="15"/><rect x="598" y="494" width="15" height="15"/><rect x="611" y="494" width="15" height="15"/><rect x="624" y="494" width="15" height="15"/><rect x="637" y="494" width="15" height="15"/><rect x="650" y="494" width="15" height="15"/><rect x="663" y="494" width="15" height="15"/><rect x="676" y="494" width="15" height="15"/><rect x="689" y="494" width="15" height="15"/><rect x="598" y="507" width="15" height="15"/><rect x="611" y="507" width="15" height="15"/><rect x="624" y="507" width="15" height="15"/><rect x="637" y="507" width="15" height="15"/><rect x="650" y="507" width="15" height="15"/><rect x="663" y="507" width="15" height="15"/><rect x="676" y="507" width="15" height="15"/><rect x="689" y="507" width="15" height="15"/><rect x="611" y="520" width="15" height="15"/><rect x="624" y="520" width="15" height="15"/><rect x="637" y="520" width="15" height="15"/><rect x="650" y="520" width="15" height="15"/><rect x="663" y="520" width="15" height="15"/><rect x="676" y="520" width="15" height="15"/><rect x="689" y="520" width="15" height="15"/><rect x="598" y="533" width="15" height="15"/><rect x="611" y="533" width="15" height="15"/><rect x="624" y="533" width="15" height="15"/><rect x="637" y="533" width="15" height="15"/><rect x="650" y="533" width="15" height="15"/><rect x="663" y="533" width="15" height="15"/><rect x="676" y="533" width="15" height="15"/><rect x="611" y="546" width="15" height="15"/><rect x="624" y="546" width="15" height="15"/><rect x="650" y="546" width="15" height="15"/><rect x="663" y="546" width="15" height="15"/><rect x="676" y="546" width="15" height="15"/><rect x="585" y="559" width="15" height="15"/><rect x="650" y="559" width="15" height="15"/><rect x="1313" y="735" width="15" height="15"/><rect x="1326" y="735" width="15" height="15"/><rect x="1339" y="735" width="15" height="15"/><rect x="1365" y="735" width="15" height="15"/><rect x="1300" y="748" width="15" height="15"/><rect x="1313" y="748" width="15" height="15"/><rect x="1326" y="748" width="15" height="15"/><rect x="1339" y="748" width="15" height="15"/><rect x="1365" y="748" width="15" height="15"/><rect x="1287" y="761" width="15" height="15"/><rect x="1300" y="761" width="15" height="15"/><rect x="1313" y="761" width="15" height="15"/><rect x="1326" y="761" width="15" height="15"/><rect x="1339" y="761" width="15" height="15"/><rect x="1365" y="761" width="15" height="15"/><rect x="1235" y="774" width="15" height="15"/><rect x="1248" y="774" width="15" height="15"/><rect x="1274" y="774" width="15" height="15"/><rect x="1287" y="774" width="15" height="15"/><rect x="1300" y="774" width="15" height="15"/><rect x="1313" y="774" width="15" height="15"/><rect x="1326" y="774" width="15" height="15"/><rect x="1339" y="774" width="15" height="15"/><rect x="1235" y="787" width="15" height="15"/><rect x="1248" y="787" width="15" height="15"/><rect x="1261" y="787" width="15" height="15"/><rect x="1274" y="787" width="15" height="15"/><rect x="1287" y="787" width="15" height="15"/><rect x="1300" y="787" width="15" height="15"/><rect x="1313" y="787" width="15" height="15"/><rect x="1326" y="787" width="15" height="15"/><rect x="1339" y="787" width="15" height="15"/><rect x="1261" y="800" width="15" height="15"/><rect x="1274" y="800" width="15" height="15"/><rect x="1287" y="800" width="15" height="15"/><rect x="1300" y="800" width="15" height="15"/><rect x="1313" y="800" width="15" height="15"/><rect x="1326" y="800" width="15" height="15"/><rect x="1339" y="800" width="15" height="15"/><rect x="1248" y="813" width="15" height="15"/><rect x="1287" y="813" width="15" height="15"/><rect x="1300" y="813" width="15" height="15"/><rect x="1313" y="813" width="15" height="15"/><rect x="1326" y="813" width="15" height="15"/><rect x="1339" y="813" width="15" height="15"/><rect x="1235" y="826" width="15" height="15"/><rect x="1287" y="826" width="15" height="15"/><rect x="1300" y="826" width="15" height="15"/><rect x="1235" y="839" width="15" height="15"/><rect x="1261" y="839" width="15" height="15"/><rect x="1274" y="839" width="15" height="15"/></g><g fill="#ff3c3c"><rect x="825" y="290" width="13" height="13"/><rect x="840" y="290" width="13" height="13"/><rect x="840" y="302" width="13" height="13"/><rect x="852" y="302" width="13" height="13"/><rect x="735" y="378" width="13" height="13"/><rect x="745" y="388" width="13" height="13"/><rect x="690" y="382" width="13" height="13"/><rect x="636" y="420" width="13" height="13"/><rect x="548" y="408" width="13" height="13"/><rect x="756" y="455" width="13" height="13"/><rect x="790" y="493" width="13" height="13"/><rect x="506" y="528" width="13" height="13"/><rect x="492" y="556" width="13" height="13"/><rect x="560" y="575" width="13" height="13"/><rect x="605" y="622" width="13" height="13"/><rect x="648" y="620" width="13" height="13"/><rect x="598" y="660" width="13" height="13"/><rect x="676" y="683" width="13" height="13"/><rect x="760" y="598" width="13" height="13"/><rect x="805" y="652" width="13" height="13"/><rect x="817" y="652" width="13" height="13"/><rect x="926" y="396" width="13" height="13"/><rect x="1012" y="455" width="13" height="13"/><rect x="970" y="527" width="13" height="13"/><rect x="1056" y="545" width="13" height="13"/><rect x="1066" y="555" width="13" height="13"/><rect x="1043" y="588" width="13" height="13"/><rect x="996" y="658" width="13" height="13"/><rect x="1126" y="633" width="13" height="13"/><rect x="1180" y="323" width="13" height="13"/><rect x="1250" y="348" width="13" height="13"/><rect x="1320" y="397" width="13" height="13"/><rect x="1190" y="472" width="13" height="13"/><rect x="1202" y="465" width="13" height="13"/><rect x="1214" y="460" width="13" height="13"/><rect x="1226" y="472" width="13" height="13"/><rect x="1193" y="517" width="13" height="13"/><rect x="1293" y="540" width="13" height="13"/><rect x="1337" y="560" width="13" height="13"/><rect x="1349" y="555" width="13" height="13"/><rect x="1405" y="550" width="13" height="13"/><rect x="1433" y="457" width="13" height="13"/><rect x="1560" y="358" width="13" height="13"/><rect x="1572" y="358" width="13" height="13"/><rect x="1812" y="358" width="13" height="13"/><rect x="1816" y="462" width="13" height="13"/><rect x="1643" y="503" width="13" height="13"/><rect x="1243" y="685" width="13" height="13"/><rect x="1255" y="692" width="13" height="13"/><rect x="1193" y="722" width="13" height="13"/><rect x="1457" y="722" width="13" height="13"/><rect x="1547" y="752" width="13" height="13"/><rect x="1643" y="707" width="13" height="13"/><rect x="1098" y="765" width="13" height="13"/><rect x="1068" y="835" width="13" height="13"/><rect x="1108" y="825" width="13" height="13"/><rect x="1153" y="852" width="13" height="13"/><rect x="1238" y="877" width="13" height="13"/><rect x="1268" y="873" width="13" height="13"/><rect x="1295" y="873" width="13" height="13"/><rect x="917" y="788" width="13" height="13"/><rect x="929" y="788" width="13" height="13"/><rect x="838" y="856" width="13" height="13"/><rect x="562" y="789" width="13" height="13"/><rect x="493" y="813" width="13" height="13"/><rect x="1018" y="983" width="13" height="13"/><rect x="1030" y="978" width="13" height="13"/><rect x="800" y="1008" width="13" height="13"/><rect x="812" y="1003" width="13" height="13"/><rect x="1535" y="587" width="13" height="13"/><rect x="848" y="212" width="13" height="13"/></g></g></g>
<use href="#lines"/>
<rect x="64.9" y="57.7" width="494.6" height="325.4" fill="none" stroke="#000" stroke-width="2.8"/>
<rect x="72.6" y="65.9" width="67.3" height="47.9" fill="#fff" stroke="#000" stroke-width="1.4"/>
<text x="106.2" y="97.3" text-anchor="middle" font-size="29" font-family="Liberation Sans, Arial, Helvetica, sans-serif" xml:space="preserve">( b )</text>
<path d="M54,96.6H64.9M54,157.0H64.9M54,217.4H64.9M54,277.8H64.9M54,338.2H64.9M105.3,383.1V393.7M226.4,383.1V393.7M347.5,383.1V393.7M468.6,383.1V393.7" stroke="#000" stroke-width="2.6" stroke-linecap="round"/>
<text x="46.6" y="101.2" text-anchor="end" font-size="13.4" font-family="Liberation Sans, Arial, Helvetica, sans-serif">32°N</text>
<text x="46.6" y="161.6" text-anchor="end" font-size="13.4" font-family="Liberation Sans, Arial, Helvetica, sans-serif">31°N</text>
<text x="46.6" y="222.0" text-anchor="end" font-size="13.4" font-family="Liberation Sans, Arial, Helvetica, sans-serif">30°N</text>
<text x="46.6" y="282.4" text-anchor="end" font-size="13.4" font-family="Liberation Sans, Arial, Helvetica, sans-serif">29°N</text>
<text x="46.6" y="342.8" text-anchor="end" font-size="13.4" font-family="Liberation Sans, Arial, Helvetica, sans-serif">28°N</text>
<text x="105.3" y="412.4" text-anchor="middle" font-size="13.4" font-family="Liberation Sans, Arial, Helvetica, sans-serif">102°E</text>
<text x="226.4" y="412.4" text-anchor="middle" font-size="13.4" font-family="Liberation Sans, Arial, Helvetica, sans-serif">104°E</text>
<text x="347.5" y="412.4" text-anchor="middle" font-size="13.4" font-family="Liberation Sans, Arial, Helvetica, sans-serif">106°E</text>
<text x="468.6" y="412.4" text-anchor="middle" font-size="13.4" font-family="Liberation Sans, Arial, Helvetica, sans-serif">108°E</text>
<rect x="595.0" y="366.25" width="29.0" height="12.05" fill="#060680"/>
<rect x="595.0" y="354.51" width="29.0" height="12.05" fill="#00009e"/>
<rect x="595.0" y="342.76" width="29.0" height="12.05" fill="#0808e0"/>
<rect x="595.0" y="331.02" width="29.0" height="12.05" fill="#0505ff"/>
<rect x="595.0" y="319.27" width="29.0" height="12.05" fill="#1010ff"/>
<rect x="595.0" y="307.53" width="29.0" height="12.05" fill="#4040ff"/>
<rect x="595.0" y="295.78" width="29.0" height="12.05" fill="#5f5fff"/>
<rect x="595.0" y="284.04" width="29.0" height="12.05" fill="#8282ff"/>
<rect x="595.0" y="272.29" width="29.0" height="12.05" fill="#a6a6ff"/>
<rect x="595.0" y="260.55" width="29.0" height="12.05" fill="#c9c9ff"/>
<rect x="595.0" y="248.80" width="29.0" height="12.05" fill="#e8ebff"/>
<rect x="595.0" y="237.05" width="29.0" height="12.05" fill="#ffeded"/>
<rect x="595.0" y="225.31" width="29.0" height="12.05" fill="#ffcaca"/>
<rect x="595.0" y="213.56" width="29.0" height="12.05" fill="#ffa6a6"/>
<rect x="595.0" y="201.82" width="29.0" height="12.05" fill="#ff8585"/>
<rect x="595.0" y="190.07" width="29.0" height="12.05" fill="#ff5f5f"/>
<rect x="595.0" y="178.33" width="29.0" height="12.05" fill="#ff3c3c"/>
<rect x="595.0" y="166.58" width="29.0" height="12.05" fill="#ff1e1e"/>
<rect x="595.0" y="154.84" width="29.0" height="12.05" fill="#ff0a0a"/>
<rect x="595.0" y="143.09" width="29.0" height="12.05" fill="#cc0000"/>
<rect x="595.0" y="131.35" width="29.0" height="12.05" fill="#b40000"/>
<rect x="595.0" y="119.60" width="29.0" height="12.05" fill="#930000"/>
<path d="M595.0,131.35H624.0M595.0,143.09H624.0M595.0,154.84H624.0M595.0,166.58H624.0M595.0,178.33H624.0M595.0,190.07H624.0M595.0,201.82H624.0M595.0,213.56H624.0M595.0,225.31H624.0M595.0,237.05H624.0M595.0,248.80H624.0M595.0,260.55H624.0M595.0,272.29H624.0M595.0,284.04H624.0M595.0,295.78H624.0M595.0,307.53H624.0M595.0,319.27H624.0M595.0,331.02H624.0M595.0,342.76H624.0M595.0,354.51H624.0M595.0,366.25H624.0" stroke="#000" stroke-width="1.5"/>
<rect x="595.0" y="119.6" width="29.0" height="258.4" fill="none" stroke="#000" stroke-width="1.6"/>
<text transform="translate(643,136.35) scale(1,1.09)" text-anchor="middle" font-size="14.6" font-family="Liberation Sans, Arial, Helvetica, sans-serif">80</text>
<text transform="translate(643,159.84) scale(1,1.09)" text-anchor="middle" font-size="14.6" font-family="Liberation Sans, Arial, Helvetica, sans-serif">64</text>
<text transform="translate(643,183.33) scale(1,1.09)" text-anchor="middle" font-size="14.6" font-family="Liberation Sans, Arial, Helvetica, sans-serif">48</text>
<text transform="translate(643,206.82) scale(1,1.09)" text-anchor="middle" font-size="14.6" font-family="Liberation Sans, Arial, Helvetica, sans-serif">32</text>
<text transform="translate(643,230.31) scale(1,1.09)" text-anchor="middle" font-size="14.6" font-family="Liberation Sans, Arial, Helvetica, sans-serif">16</text>
<text transform="translate(643,253.80) scale(1,1.09)" text-anchor="middle" font-size="14.6" font-family="Liberation Sans, Arial, Helvetica, sans-serif">0</text>
<text transform="translate(643,277.29) scale(1,1.09)" text-anchor="middle" font-size="14.6" font-family="Liberation Sans, Arial, Helvetica, sans-serif">-16</text>
<text transform="translate(643,300.78) scale(1,1.09)" text-anchor="middle" font-size="14.6" font-family="Liberation Sans, Arial, Helvetica, sans-serif">-32</text>
<text transform="translate(643,324.27) scale(1,1.09)" text-anchor="middle" font-size="14.6" font-family="Liberation Sans, Arial, Helvetica, sans-serif">-48</text>
<text transform="translate(643,347.76) scale(1,1.09)" text-anchor="middle" font-size="14.6" font-family="Liberation Sans, Arial, Helvetica, sans-serif">-64</text>
<text transform="translate(643,371.25) scale(1,1.09)" text-anchor="middle" font-size="14.6" font-family="Liberation Sans, Arial, Helvetica, sans-serif">-80</text>
<text transform="translate(597,96.6) scale(1,1.09)" font-size="22.5" font-family="Liberation Sans, Arial, Helvetica, sans-serif">W/m<tspan font-size="14" dy="-9.6">2</tspan></text>
</g>
<g transform="translate(0.0,838.0)">
<text transform="translate(312.2,36.1) scale(1,1.06)" text-anchor="middle" font-size="26.6" font-family="Liberation Sans, Arial, Helvetica, sans-serif">HFX_ToPo_effect</text>
<g mask="url(#fr)"><g transform="translate(75,60) scale(0.23223)"><rect x="0" y="0" width="2100" height="1400" fill="#ffeded"/><g filter="url(#bl)"><polygon points="380,450 560,300 700,220 880,60 1000,200 1300,220 1450,330 1600,220 1950,230 1950,420 1700,480 1450,470 1300,380 1100,360 950,360 880,440 880,600 700,640 420,660" fill="#e8ebff"/><ellipse cx="870" cy="250" rx="110" ry="90" fill="#c9c9ff"/><ellipse cx="880" cy="200" rx="60" ry="60" fill="#a6a6ff"/><ellipse cx="1230" cy="290" rx="170" ry="55" fill="#c9c9ff"/><ellipse cx="1600" cy="400" rx="110" ry="120" fill="#c9c9ff"/><ellipse cx="690" cy="340" rx="70" ry="70" fill="#c9c9ff"/><ellipse cx="820" cy="520" rx="60" ry="40" fill="#c9c9ff"/><ellipse cx="520" cy="420" rx="60" ry="40" fill="#c9c9ff"/><ellipse cx="800" cy="960" rx="330" ry="170" fill="#ffcaca"/><ellipse cx="850" cy="1050" rx="220" ry="110" fill="#ffa6a6"/><ellipse cx="1200" cy="780" rx="150" ry="130" fill="#ffcaca"/><ellipse cx="1270" cy="790" rx="60" ry="60" fill="#ffa6a6"/><ellipse cx="1650" cy="620" rx="50" ry="60" fill="#ffa6a6"/><ellipse cx="1420" cy="870" rx="90" ry="80" fill="#a6a6ff"/><ellipse cx="1050" cy="1200" rx="60" ry="50" fill="#a6a6ff"/><ellipse cx="1210" cy="1230" rx="50" ry="30" fill="#ff8585"/><ellipse cx="250" cy="850" rx="130" ry="90" fill="#ffa6a6"/><ellipse cx="1720" cy="260" rx="70" ry="60" fill="#ffcaca"/><ellipse cx="1150" cy="480" rx="120" ry="60" fill="#ffcaca" opacity="0.6"/></g></g></g>
<use href="#lines"/>
<rect x="64.9" y="57.7" width="494.6" height="325.4" fill="none" stroke="#000" stroke-width="2.8"/>
<rect x="72.6" y="65.9" width="65.8" height="47.9" fill="#fff" stroke="#000" stroke-width="1.4"/>
<text x="105.5" y="97.3" text-anchor="middle" font-size="29" font-family="Liberation Sans, Arial, Helvetica, sans-serif" xml:space="preserve">( c )</text>
<path d="M54,96.6H64.9M54,157.0H64.9M54,217.4H64.9M54,277.8H64.9M54,338.2H64.9M105.3,383.1V393.7M226.4,383.1V393.7M347.5,383.1V393.7M468.6,383.1V393.7" stroke="#000" stroke-width="2.6" stroke-linecap="round"/>
<text x="46.6" y="101.2" text-anchor="end" font-size="13.4" font-family="Liberation Sans, Arial, Helvetica, sans-serif">32°N</text>
<text x="46.6" y="161.6" text-anchor="end" font-size="13.4" font-family="Liberation Sans, Arial, Helvetica, sans-serif">31°N</text>
<text x="46.6" y="222.0" text-anchor="end" font-size="13.4" font-family="Liberation Sans, Arial, Helvetica, sans-serif">30°N</text>
<text x="46.6" y="282.4" text-anchor="end" font-size="13.4" font-family="Liberation Sans, Arial, Helvetica, sans-serif">29°N</text>
<text x="46.6" y="342.8" text-anchor="end" font-size="13.4" font-family="Liberation Sans, Arial, Helvetica, sans-serif">28°N</text>
<text x="105.3" y="412.4" text-anchor="middle" font-size="13.4" font-family="Liberation Sans, Arial, Helvetica, sans-serif">102°E</text>
<text x="226.4" y="412.4" text-anchor="middle" font-size="13.4" font-family="Liberation Sans, Arial, Helvetica, sans-serif">104°E</text>
<text x="347.5" y="412.4" text-anchor="middle" font-size="13.4" font-family="Liberation Sans, Arial, Helvetica, sans-serif">106°E</text>
<text x="468.6" y="412.4" text-anchor="middle" font-size="13.4" font-family="Liberation Sans, Arial, Helvetica, sans-serif">108°E</text>
<rect x="595.0" y="366.25" width="29.0" height="12.05" fill="#060680"/>
<rect x="595.0" y="354.51" width="29.0" height="12.05" fill="#00009e"/>
<rect x="595.0" y="342.76" width="29.0" height="12.05" fill="#0808e0"/>
<rect x="595.0" y="331.02" width="29.0" height="12.05" fill="#0505ff"/>
<rect x="595.0" y="319.27" width="29.0" height="12.05" fill="#1010ff"/>
<rect x="595.0" y="307.53" width="29.0" height="12.05" fill="#4040ff"/>
<rect x="595.0" y="295.78" width="29.0" height="12.05" fill="#5f5fff"/>
<rect x="595.0" y="284.04" width="29.0" height="12.05" fill="#8282ff"/>
<rect x="595.0" y="272.29" width="29.0" height="12.05" fill="#a6a6ff"/>
<rect x="595.0" y="260.55" width="29.0" height="12.05" fill="#c9c9ff"/>
<rect x="595.0" y="248.80" width="29.0" height="12.05" fill="#e8ebff"/>
<rect x="595.0" y="237.05" width="29.0" height="12.05" fill="#ffeded"/>
<rect x="595.0" y="225.31" width="29.0" height="12.05" fill="#ffcaca"/>
<rect x="595.0" y="213.56" width="29.0" height="12.05" fill="#ffa6a6"/>
<rect x="595.0" y="201.82" width="29.0" height="12.05" fill="#ff8585"/>
<rect x="595.0" y="190.07" width="29.0" height="12.05" fill="#ff5f5f"/>
<rect x="595.0" y="178.33" width="29.0" height="12.05" fill="#ff3c3c"/>
<rect x="595.0" y="166.58" width="29.0" height="12.05" fill="#ff1e1e"/>
<rect x="595.0" y="154.84" width="29.0" height="12.05" fill="#ff0a0a"/>
<rect x="595.0" y="143.09" width="29.0" height="12.05" fill="#cc0000"/>
<rect x="595.0" y="131.35" width="29.0" height="12.05" fill="#b40000"/>
<rect x="595.0" y="119.60" width="29.0" height="12.05" fill="#930000"/>
<path d="M595.0,131.35H624.0M595.0,143.09H624.0M595.0,154.84H624.0M595.0,166.58H624.0M595.0,178.33H624.0M595.0,190.07H624.0M595.0,201.82H624.0M595.0,213.56H624.0M595.0,225.31H624.0M595.0,237.05H624.0M595.0,248.80H624.0M595.0,260.55H624.0M595.0,272.29H624.0M595.0,284.04H624.0M595.0,295.78H624.0M595.0,307.53H624.0M595.0,319.27H624.0M595.0,331.02H624.0M595.0,342.76H624.0M595.0,354.51H624.0M595.0,366.25H624.0" stroke="#000" stroke-width="1.5"/>
<rect x="595.0" y="119.6" width="29.0" height="258.4" fill="none" stroke="#000" stroke-width="1.6"/>
<text transform="translate(643,136.35) scale(1,1.09)" text-anchor="middle" font-size="14.6" font-family="Liberation Sans, Arial, Helvetica, sans-serif">40</text>
<text transform="translate(643,159.84) scale(1,1.09)" text-anchor="middle" font-size="14.6" font-family="Liberation Sans, Arial, Helvetica, sans-serif">32</text>
<text transform="translate(643,183.33) scale(1,1.09)" text-anchor="middle" font-size="14.6" font-family="Liberation Sans, Arial, Helvetica, sans-serif">24</text>
<text transform="translate(643,206.82) scale(1,1.09)" text-anchor="middle" font-size="14.6" font-family="Liberation Sans, Arial, Helvetica, sans-serif">16</text>
<text transform="translate(643,230.31) scale(1,1.09)" text-anchor="middle" font-size="14.6" font-family="Liberation Sans, Arial, Helvetica, sans-serif">8</text>
<text transform="translate(643,253.80) scale(1,1.09)" text-anchor="middle" font-size="14.6" font-family="Liberation Sans, Arial, Helvetica, sans-serif">0</text>
<text transform="translate(643,277.29) scale(1,1.09)" text-anchor="middle" font-size="14.6" font-family="Liberation Sans, Arial, Helvetica, sans-serif">-8</text>
<text transform="translate(643,300.78) scale(1,1.09)" text-anchor="middle" font-size="14.6" font-family="Liberation Sans, Arial, Helvetica, sans-serif">-16</text>
<text transform="translate(643,324.27) scale(1,1.09)" text-anchor="middle" font-size="14.6" font-family="Liberation Sans, Arial, Helvetica, sans-serif">-24</text>
<text transform="translate(643,347.76) scale(1,1.09)" text-anchor="middle" font-size="14.6" font-family="Liberation Sans, Arial, Helvetica, sans-serif">-32</text>
<text transform="translate(643,371.25) scale(1,1.09)" text-anchor="middle" font-size="14.6" font-family="Liberation Sans, Arial, Helvetica, sans-serif">-40</text>
<text transform="translate(597,96.6) scale(1,1.09)" font-size="22.5" font-family="Liberation Sans, Arial, Helvetica, sans-serif">W/m<tspan font-size="14" dy="-9.6">2</tspan></text>
</g>
<g transform="translate(0.0,1257.0)">
<text transform="translate(312.2,36.1) scale(1,1.06)" text-anchor="middle" font-size="26.6" font-family="Liberation Sans, Arial, Helvetica, sans-serif">HFX_Urban&amp;ToPo Interaction</text>
<g mask="url(#fr)"><g transform="translate(75,60) scale(0.23223)"><rect x="0" y="0" width="2100" height="1400" fill="#ffcaca"/><g filter="url(#bl)"><polygon points="600,0 2100,0 2100,800 1700,850 1500,950 1300,900 1100,750 950,600 800,450 650,300" fill="#c9c9ff"/><ellipse cx="1250" cy="430" rx="270" ry="140" fill="#a6a6ff"/><ellipse cx="1420" cy="470" rx="80" ry="80" fill="#5f5fff"/><ellipse cx="1650" cy="600" rx="120" ry="120" fill="#a6a6ff"/><ellipse cx="820" cy="830" rx="250" ry="160" fill="#ffa6a6"/><ellipse cx="820" cy="830" rx="90" ry="70" fill="#ff8585"/><ellipse cx="650" cy="520" rx="150" ry="80" fill="#ffcaca"/><ellipse cx="1280" cy="800" rx="100" ry="60" fill="#ffcaca"/><ellipse cx="1150" cy="700" rx="120" ry="100" fill="#e8ebff"/></g></g></g>
<use href="#lines"/>
<rect x="64.9" y="57.7" width="494.6" height="325.4" fill="none" stroke="#000" stroke-width="2.8"/>
<rect x="72.6" y="65.9" width="67.3" height="47.9" fill="#fff" stroke="#000" stroke-width="1.4"/>
<text x="106.2" y="97.3" text-anchor="middle" font-size="29" font-family="Liberation Sans, Arial, Helvetica, sans-serif" xml:space="preserve">( d )</text>
<path d="M54,96.6H64.9M54,157.0H64.9M54,217.4H64.9M54,277.8H64.9M54,338.2H64.9M105.3,383.1V393.7M226.4,383.1V393.7M347.5,383.1V393.7M468.6,383.1V393.7" stroke="#000" stroke-width="2.6" stroke-linecap="round"/>
<text x="46.6" y="101.2" text-anchor="end" font-size="13.4" font-family="Liberation Sans, Arial, Helvetica, sans-serif">32°N</text>
<text x="46.6" y="161.6" text-anchor="end" font-size="13.4" font-family="Liberation Sans, Arial, Helvetica, sans-serif">31°N</text>
<text x="46.6" y="222.0" text-anchor="end" font-size="13.4" font-family="Liberation Sans, Arial, Helvetica, sans-serif">30°N</text>
<text x="46.6" y="282.4" text-anchor="end" font-size="13.4" font-family="Liberation Sans, Arial, Helvetica, sans-serif">29°N</text>
<text x="46.6" y="342.8" text-anchor="end" font-size="13.4" font-family="Liberation Sans, Arial, Helvetica, sans-serif">28°N</text>
<text x="105.3" y="412.4" text-anchor="middle" font-size="13.4" font-family="Liberation Sans, Arial, Helvetica, sans-serif">102°E</text>
<text x="226.4" y="412.4" text-anchor="middle" font-size="13.4" font-family="Liberation Sans, Arial, Helvetica, sans-serif">104°E</text>
<text x="347.5" y="412.4" text-anchor="middle" font-size="13.4" font-family="Liberation Sans, Arial, Helvetica, sans-serif">106°E</text>
<text x="468.6" y="412.4" text-anchor="middle" font-size="13.4" font-family="Liberation Sans, Arial, Helvetica, sans-serif">108°E</text>
<rect x="595.0" y="366.25" width="29.0" height="12.05" fill="#060680"/>
<rect x="595.0" y="354.51" width="29.0" height="12.05" fill="#00009e"/>
<rect x="595.0" y="342.76" width="29.0" height="12.05" fill="#0808e0"/>
<rect x="595.0" y="331.02" width="29.0" height="12.05" fill="#0505ff"/>
<rect x="595.0" y="319.27" width="29.0" height="12.05" fill="#1010ff"/>
<rect x="595.0" y="307.53" width="29.0" height="12.05" fill="#4040ff"/>
<rect x="595.0" y="295.78" width="29.0" height="12.05" fill="#5f5fff"/>
<rect x="595.0" y="284.04" width="29.0" height="12.05" fill="#8282ff"/>
<rect x="595.0" y="272.29" width="29.0" height="12.05" fill="#a6a6ff"/>
<rect x="595.0" y="260.55" width="29.0" height="12.05" fill="#c9c9ff"/>
<rect x="595.0" y="248.80" width="29.0" height="12.05" fill="#e8ebff"/>
<rect x="595.0" y="237.05" width="29.0" height="12.05" fill="#ffeded"/>
<rect x="595.0" y="225.31" width="29.0" height="12.05" fill="#ffcaca"/>
<rect x="595.0" y="213.56" width="29.0" height="12.05" fill="#ffa6a6"/>
<rect x="595.0" y="201.82" width="29.0" height="12.05" fill="#ff8585"/>
<rect x="595.0" y="190.07" width="29.0" height="12.05" fill="#ff5f5f"/>
<rect x="595.0" y="178.33" width="29.0" height="12.05" fill="#ff3c3c"/>
<rect x="595.0" y="166.58" width="29.0" height="12.05" fill="#ff1e1e"/>
<rect x="595.0" y="154.84" width="29.0" height="12.05" fill="#ff0a0a"/>
<rect x="595.0" y="143.09" width="29.0" height="12.05" fill="#cc0000"/>
<rect x="595.0" y="131.35" width="29.0" height="12.05" fill="#b40000"/>
<rect x="595.0" y="119.60" width="29.0" height="12.05" fill="#930000"/>
<path d="M595.0,131.35H624.0M595.0,143.09H624.0M595.0,154.84H624.0M595.0,166.58H624.0M595.0,178.33H624.0M595.0,190.07H624.0M595.0,201.82H624.0M595.0,213.56H624.0M595.0,225.31H624.0M595.0,237.05H624.0M595.0,248.80H624.0M595.0,260.55H624.0M595.0,272.29H624.0M595.0,284.04H624.0M595.0,295.78H624.0M595.0,307.53H624.0M595.0,319.27H624.0M595.0,331.02H624.0M595.0,342.76H624.0M595.0,354.51H624.0M595.0,366.25H624.0" stroke="#000" stroke-width="1.5"/>
<rect x="595.0" y="119.6" width="29.0" height="258.4" fill="none" stroke="#000" stroke-width="1.6"/>
<text transform="translate(643,136.35) scale(1,1.09)" text-anchor="middle" font-size="14.6" font-family="Liberation Sans, Arial, Helvetica, sans-serif">30</text>
<text transform="translate(643,159.84) scale(1,1.09)" text-anchor="middle" font-size="14.6" font-family="Liberation Sans, Arial, Helvetica, sans-serif">24</text>
<text transform="translate(643,183.33) scale(1,1.09)" text-anchor="middle" font-size="14.6" font-family="Liberation Sans, Arial, Helvetica, sans-serif">18</text>
<text transform="translate(643,206.82) scale(1,1.09)" text-anchor="middle" font-size="14.6" font-family="Liberation Sans, Arial, Helvetica, sans-serif">12</text>
<text transform="translate(643,230.31) scale(1,1.09)" text-anchor="middle" font-size="14.6" font-family="Liberation Sans, Arial, Helvetica, sans-serif">6</text>
<text transform="translate(643,253.80) scale(1,1.09)" text-anchor="middle" font-size="14.6" font-family="Liberation Sans, Arial, Helvetica, sans-serif">0</text>
<text transform="translate(643,277.29) scale(1,1.09)" text-anchor="middle" font-size="14.6" font-family="Liberation Sans, Arial, Helvetica, sans-serif">-6</text>
<text transform="translate(643,300.78) scale(1,1.09)" text-anchor="middle" font-size="14.6" font-family="Liberation Sans, Arial, Helvetica, sans-serif">-12</text>
<text transform="translate(643,324.27) scale(1,1.09)" text-anchor="middle" font-size="14.6" font-family="Liberation Sans, Arial, Helvetica, sans-serif">-18</text>
<text transform="translate(643,347.76) scale(1,1.09)" text-anchor="middle" font-size="14.6" font-family="Liberation Sans, Arial, Helvetica, sans-serif">-24</text>
<text transform="translate(643,371.25) scale(1,1.09)" text-anchor="middle" font-size="14.6" font-family="Liberation Sans, Arial, Helvetica, sans-serif">-30</text>
<text transform="translate(597,96.6) scale(1,1.09)" font-size="22.5" font-family="Liberation Sans, Arial, Helvetica, sans-serif">W/m<tspan font-size="14" dy="-9.6">2</tspan></text>
</g>
<g transform="translate(695.5,0.0)">
<text transform="translate(312.2,36.1) scale(1,1.06)" text-anchor="middle" font-size="26.6" font-family="Liberation Sans, Arial, Helvetica, sans-serif">LH_2018Landuse</text>
<g mask="url(#fr)"><g transform="translate(75,60) scale(0.23223)"><rect x="0" y="0" width="2100" height="1400" fill="#e7533a"/><g filter="url(#bl)"><ellipse cx="280" cy="850" rx="220" ry="150" fill="#fdc38d"/><ellipse cx="440" cy="900" rx="60" ry="80" fill="#fdb982"/><ellipse cx="520" cy="860" rx="130" ry="200" fill="#f5764f"/><ellipse cx="640" cy="480" rx="250" ry="150" fill="#f06749"/><ellipse cx="670" cy="290" rx="80" ry="50" fill="#fc9661"/><ellipse cx="1520" cy="480" rx="330" ry="230" fill="#d62a1c"/><ellipse cx="1550" cy="500" rx="200" ry="150" fill="#cc1810"/><ellipse cx="1420" cy="870" rx="90" ry="90" fill="#c20806"/><ellipse cx="1000" cy="1150" rx="200" ry="120" fill="#d62a1c"/><ellipse cx="1200" cy="450" rx="150" ry="150" fill="#de3f2b"/><ellipse cx="1740" cy="260" rx="100" ry="45" fill="#fda772"/><ellipse cx="1700" cy="620" rx="60" ry="90" fill="#f06749"/></g><g fill="#feecd1"><rect x="663" y="455" width="15" height="15"/><rect x="676" y="455" width="15" height="15"/><rect x="598" y="468" width="15" height="15"/><rect x="637" y="468" width="15" height="15"/><rect x="650" y="468" width="15" height="15"/><rect x="663" y="468" width="15" height="15"/><rect x="676" y="468" width="15" height="15"/><rect x="611" y="481" width="15" height="15"/><rect x="624" y="481" width="15" height="15"/><rect x="637" y="481" width="15" height="15"/><rect x="650" y="481" width="15" height="15"/><rect x="663" y="481" width="15" height="15"/><rect x="676" y="481" width="15" height="15"/><rect x="585" y="494" width="15" height="15"/><rect x="598" y="494" width="15" height="15"/><rect x="611" y="494" width="15" height="15"/><rect x="624" y="494" width="15" height="15"/><rect x="637" y="494" width="15" height="15"/><rect x="650" y="494" width="15" height="15"/><rect x="663" y="494" width="15" height="15"/><rect x="676" y="494" width="15" height="15"/><rect x="689" y="494" width="15" height="15"/><rect x="598" y="507" width="15" height="15"/><rect x="611" y="507" width="15" height="15"/><rect x="624" y="507" width="15" height="15"/><rect x="637" y="507" width="15" height="15"/><rect x="650" y="507" width="15" height="15"/><rect x="663" y="507" width="15" height="15"/><rect x="676" y="507" width="15" height="15"/><rect x="689" y="507" width="15" height="15"/><rect x="611" y="520" width="15" height="15"/><rect x="624" y="520" width="15" height="15"/><rect x="637" y="520" width="15" height="15"/><rect x="650" y="520" width="15" height="15"/><rect x="663" y="520" width="15" height="15"/><rect x="676" y="520" width="15" height="15"/><rect x="689" y="520" width="15" height="15"/><rect x="598" y="533" width="15" height="15"/><rect x="611" y="533" width="15" height="15"/><rect x="624" y="533" width="15" height="15"/><rect x="637" y="533" width="15" height="15"/><rect x="650" y="533" width="15" height="15"/><rect x="663" y="533" width="15" height="15"/><rect x="676" y="533" width="15" height="15"/><rect x="611" y="546" width="15" height="15"/><rect x="624" y="546" width="15" height="15"/><rect x="650" y="546" width="15" height="15"/><rect x="663" y="546" width="15" height="15"/><rect x="676" y="546" width="15" height="15"/><rect x="585" y="559" width="15" height="15"/><rect x="650" y="559" width="15" height="15"/><rect x="1313" y="735" width="15" height="15"/><rect x="1326" y="735" width="15" height="15"/><rect x="1339" y="735" width="15" height="15"/><rect x="1365" y="735" width="15" height="15"/><rect x="1300" y="748" width="15" height="15"/><rect x="1313" y="748" width="15" height="15"/><rect x="1326" y="748" width="15" height="15"/><rect x="1339" y="748" width="15" height="15"/><rect x="1365" y="748" width="15" height="15"/><rect x="1287" y="761" width="15" height="15"/><rect x="1300" y="761" width="15" height="15"/><rect x="1313" y="761" width="15" height="15"/><rect x="1326" y="761" width="15" height="15"/><rect x="1339" y="761" width="15" height="15"/><rect x="1365" y="761" width="15" height="15"/><rect x="1235" y="774" width="15" height="15"/><rect x="1248" y="774" width="15" height="15"/><rect x="1274" y="774" width="15" height="15"/><rect x="1287" y="774" width="15" height="15"/><rect x="1300" y="774" width="15" height="15"/><rect x="1313" y="774" width="15" height="15"/><rect x="1326" y="774" width="15" height="15"/><rect x="1339" y="774" width="15" height="15"/><rect x="1235" y="787" width="15" height="15"/><rect x="1248" y="787" width="15" height="15"/><rect x="1261" y="787" width="15" height="15"/><rect x="1274" y="787" width="15" height="15"/><rect x="1287" y="787" width="15" height="15"/><rect x="1300" y="787" width="15" height="15"/><rect x="1313" y="787" width="15" height="15"/><rect x="1326" y="787" width="15" height="15"/><rect x="1339" y="787" width="15" height="15"/><rect x="1261" y="800" width="15" height="15"/><rect x="1274" y="800" width="15" height="15"/><rect x="1287" y="800" width="15" height="15"/><rect x="1300" y="800" width="15" height="15"/><rect x="1313" y="800" width="15" height="15"/><rect x="1326" y="800" width="15" height="15"/><rect x="1339" y="800" width="15" height="15"/><rect x="1248" y="813" width="15" height="15"/><rect x="1287" y="813" width="15" height="15"/><rect x="1300" y="813" width="15" height="15"/><rect x="1313" y="813" width="15" height="15"/><rect x="1326" y="813" width="15" height="15"/><rect x="1339" y="813" width="15" height="15"/><rect x="1235" y="826" width="15" height="15"/><rect x="1287" y="826" width="15" height="15"/><rect x="1300" y="826" width="15" height="15"/><rect x="1235" y="839" width="15" height="15"/><rect x="1261" y="839" width="15" height="15"/><rect x="1274" y="839" width="15" height="15"/></g><g fill="#feecd1"><rect x="825" y="290" width="14" height="14"/><rect x="840" y="290" width="14" height="14"/><rect x="840" y="302" width="14" height="14"/><rect x="852" y="302" width="14" height="14"/><rect x="735" y="378" width="14" height="14"/><rect x="745" y="388" width="14" height="14"/><rect x="690" y="382" width="14" height="14"/><rect x="636" y="420" width="14" height="14"/><rect x="548" y="408" width="14" height="14"/><rect x="756" y="455" width="14" height="14"/><rect x="790" y="493" width="14" height="14"/><rect x="506" y="528" width="14" height="14"/><rect x="492" y="556" width="14" height="14"/><rect x="560" y="575" width="14" height="14"/><rect x="605" y="622" width="14" height="14"/><rect x="648" y="620" width="14" height="14"/><rect x="598" y="660" width="14" height="14"/><rect x="676" y="683" width="14" height="14"/><rect x="760" y="598" width="14" height="14"/><rect x="805" y="652" width="14" height="14"/><rect x="817" y="652" width="14" height="14"/><rect x="926" y="396" width="14" height="14"/><rect x="1012" y="455" width="14" height="14"/><rect x="970" y="527" width="14" height="14"/><rect x="1056" y="545" width="14" height="14"/><rect x="1066" y="555" width="14" height="14"/><rect x="1043" y="588" width="14" height="14"/><rect x="996" y="658" width="14" height="14"/><rect x="1126" y="633" width="14" height="14"/><rect x="1180" y="323" width="14" height="14"/><rect x="1250" y="348" width="14" height="14"/><rect x="1320" y="397" width="14" height="14"/><rect x="1190" y="472" width="14" height="14"/><rect x="1202" y="465" width="14" height="14"/><rect x="1214" y="460" width="14" height="14"/><rect x="1226" y="472" width="14" height="14"/><rect x="1193" y="517" width="14" height="14"/><rect x="1293" y="540" width="14" height="14"/><rect x="1337" y="560" width="14" height="14"/><rect x="1349" y="555" width="14" height="14"/><rect x="1405" y="550" width="14" height="14"/><rect x="1433" y="457" width="14" height="14"/><rect x="1560" y="358" width="14" height="14"/><rect x="1572" y="358" width="14" height="14"/><rect x="1812" y="358" width="14" height="14"/><rect x="1816" y="462" width="14" height="14"/><rect x="1643" y="503" width="14" height="14"/><rect x="1243" y="685" width="14" height="14"/><rect x="1255" y="692" width="14" height="14"/><rect x="1193" y="722" width="14" height="14"/><rect x="1457" y="722" width="14" height="14"/><rect x="1547" y="752" width="14" height="14"/><rect x="1643" y="707" width="14" height="14"/><rect x="1098" y="765" width="14" height="14"/><rect x="1068" y="835" width="14" height="14"/><rect x="1108" y="825" width="14" height="14"/><rect x="1153" y="852" width="14" height="14"/><rect x="1238" y="877" width="14" height="14"/><rect x="1268" y="873" width="14" height="14"/><rect x="1295" y="873" width="14" height="14"/><rect x="917" y="788" width="14" height="14"/><rect x="929" y="788" width="14" height="14"/><rect x="838" y="856" width="14" height="14"/><rect x="562" y="789" width="14" height="14"/><rect x="493" y="813" width="14" height="14"/><rect x="1018" y="983" width="14" height="14"/><rect x="1030" y="978" width="14" height="14"/><rect x="800" y="1008" width="14" height="14"/><rect x="812" y="1003" width="14" height="14"/><rect x="1535" y="587" width="14" height="14"/><rect x="848" y="212" width="14" height="14"/></g><g fill="#fee5c2"><rect x="1650" y="230" width="16" height="16"/><rect x="1690" y="250" width="16" height="16"/><rect x="1730" y="240" width="16" height="16"/><rect x="1770" y="270" width="16" height="16"/><rect x="1710" y="280" width="16" height="16"/><rect x="1660" y="600" width="16" height="16"/><rect x="1680" y="630" width="16" height="16"/><rect x="1640" y="660" width="16" height="16"/><rect x="1700" y="560" width="16" height="16"/><rect x="1200" y="470" width="16" height="16"/><rect x="1210" y="490" width="16" height="16"/><rect x="1460" y="880" width="16" height="16"/><rect x="1480" y="900" width="16" height="16"/><rect x="1470" y="860" width="16" height="16"/></g></g></g>
<use href="#lines"/>
<rect x="64.9" y="57.7" width="494.6" height="325.4" fill="none" stroke="#000" stroke-width="2.8"/>
<rect x="72.6" y="65.9" width="67.3" height="47.9" fill="#fff" stroke="#000" stroke-width="1.4"/>
<text x="106.2" y="97.3" text-anchor="middle" font-size="29" font-family="Liberation Sans, Arial, Helvetica, sans-serif" xml:space="preserve">( e )</text>
<path d="M54,96.6H64.9M54,157.0H64.9M54,217.4H64.9M54,277.8H64.9M54,338.2H64.9M105.3,383.1V393.7M226.4,383.1V393.7M347.5,383.1V393.7M468.6,383.1V393.7" stroke="#000" stroke-width="2.6" stroke-linecap="round"/>
<text x="46.6" y="101.2" text-anchor="end" font-size="13.4" font-family="Liberation Sans, Arial, Helvetica, sans-serif">32°N</text>
<text x="46.6" y="161.6" text-anchor="end" font-size="13.4" font-family="Liberation Sans, Arial, Helvetica, sans-serif">31°N</text>
<text x="46.6" y="222.0" text-anchor="end" font-size="13.4" font-family="Liberation Sans, Arial, Helvetica, sans-serif">30°N</text>
<text x="46.6" y="282.4" text-anchor="end" font-size="13.4" font-family="Liberation Sans, Arial, Helvetica, sans-serif">29°N</text>
<text x="46.6" y="342.8" text-anchor="end" font-size="13.4" font-family="Liberation Sans, Arial, Helvetica, sans-serif">28°N</text>
<text x="105.3" y="412.4" text-anchor="middle" font-size="13.4" font-family="Liberation Sans, Arial, Helvetica, sans-serif">102°E</text>
<text x="226.4" y="412.4" text-anchor="middle" font-size="13.4" font-family="Liberation Sans, Arial, Helvetica, sans-serif">104°E</text>
<text x="347.5" y="412.4" text-anchor="middle" font-size="13.4" font-family="Liberation Sans, Arial, Helvetica, sans-serif">106°E</text>
<text x="468.6" y="412.4" text-anchor="middle" font-size="13.4" font-family="Liberation Sans, Arial, Helvetica, sans-serif">108°E</text>
<rect x="595.0" y="366.25" width="29.0" height="12.05" fill="#fff7ec"/>
<rect x="595.0" y="354.51" width="29.0" height="12.05" fill="#fff1de"/>
<rect x="595.0" y="342.76" width="29.0" height="12.05" fill="#feecd1"/>
<rect x="595.0" y="331.02" width="29.0" height="12.05" fill="#fee5c2"/>
<rect x="595.0" y="319.27" width="29.0" height="12.05" fill="#fddeb2"/>
<rect x="595.0" y="307.53" width="29.0" height="12.05" fill="#fdd6a2"/>
<rect x="595.0" y="295.78" width="29.0" height="12.05" fill="#fdcd97"/>
<rect x="595.0" y="284.04" width="29.0" height="12.05" fill="#fdc38d"/>
<rect x="595.0" y="272.29" width="29.0" height="12.05" fill="#fdb982"/>
<rect x="595.0" y="260.55" width="29.0" height="12.05" fill="#fda772"/>
<rect x="595.0" y="248.80" width="29.0" height="12.05" fill="#fc9661"/>
<rect x="595.0" y="237.05" width="29.0" height="12.05" fill="#fa8556"/>
<rect x="595.0" y="225.31" width="29.0" height="12.05" fill="#f5764f"/>
<rect x="595.0" y="213.56" width="29.0" height="12.05" fill="#f06749"/>
<rect x="595.0" y="201.82" width="29.0" height="12.05" fill="#e7533a"/>
<rect x="595.0" y="190.07" width="29.0" height="12.05" fill="#de3f2b"/>
<rect x="595.0" y="178.33" width="29.0" height="12.05" fill="#d62a1c"/>
<rect x="595.0" y="166.58" width="29.0" height="12.05" fill="#cc1810"/>
<rect x="595.0" y="154.84" width="29.0" height="12.05" fill="#c20806"/>
<rect x="595.0" y="143.09" width="29.0" height="12.05" fill="#ae0202"/>
<rect x="595.0" y="131.35" width="29.0" height="12.05" fill="#990000"/>
<rect x="595.0" y="119.60" width="29.0" height="12.05" fill="#8a0000"/>
<path d="M595.0,131.35H624.0M595.0,143.09H624.0M595.0,154.84H624.0M595.0,166.58H624.0M595.0,178.33H624.0M595.0,190.07H624.0M595.0,201.82H624.0M595.0,213.56H624.0M595.0,225.31H624.0M595.0,237.05H624.0M595.0,248.80H624.0M595.0,260.55H624.0M595.0,272.29H624.0M595.0,284.04H624.0M595.0,295.78H624.0M595.0,307.53H624.0M595.0,319.27H624.0M595.0,331.02H624.0M595.0,342.76H624.0M595.0,354.51H624.0M595.0,366.25H624.0" stroke="#000" stroke-width="1.5"/>
<rect x="595.0" y="119.6" width="29.0" height="258.4" fill="none" stroke="#000" stroke-width="1.6"/>
<text transform="translate(643,136.35) scale(1,1.09)" text-anchor="middle" font-size="14.6" font-family="Liberation Sans, Arial, Helvetica, sans-serif">180</text>
<text transform="translate(643,159.84) scale(1,1.09)" text-anchor="middle" font-size="14.6" font-family="Liberation Sans, Arial, Helvetica, sans-serif">162</text>
<text transform="translate(643,183.33) scale(1,1.09)" text-anchor="middle" font-size="14.6" font-family="Liberation Sans, Arial, Helvetica, sans-serif">144</text>
<text transform="translate(643,206.82) scale(1,1.09)" text-anchor="middle" font-size="14.6" font-family="Liberation Sans, Arial, Helvetica, sans-serif">126</text>
<text transform="translate(643,230.31) scale(1,1.09)" text-anchor="middle" font-size="14.6" font-family="Liberation Sans, Arial, Helvetica, sans-serif">108</text>
<text transform="translate(643,253.80) scale(1,1.09)" text-anchor="middle" font-size="14.6" font-family="Liberation Sans, Arial, Helvetica, sans-serif">90</text>
<text transform="translate(643,277.29) scale(1,1.09)" text-anchor="middle" font-size="14.6" font-family="Liberation Sans, Arial, Helvetica, sans-serif">72</text>
<text transform="translate(643,300.78) scale(1,1.09)" text-anchor="middle" font-size="14.6" font-family="Liberation Sans, Arial, Helvetica, sans-serif">54</text>
<text transform="translate(643,324.27) scale(1,1.09)" text-anchor="middle" font-size="14.6" font-family="Liberation Sans, Arial, Helvetica, sans-serif">36</text>
<text transform="translate(643,347.76) scale(1,1.09)" text-anchor="middle" font-size="14.6" font-family="Liberation Sans, Arial, Helvetica, sans-serif">18</text>
<text transform="translate(643,371.25) scale(1,1.09)" text-anchor="middle" font-size="14.6" font-family="Liberation Sans, Arial, Helvetica, sans-serif">0</text>
<text transform="translate(597,96.6) scale(1,1.09)" font-size="22.5" font-family="Liberation Sans, Arial, Helvetica, sans-serif">W/m<tspan font-size="14" dy="-9.6">2</tspan></text>
</g>
<g transform="translate(695.5,419.0)">
<text transform="translate(312.2,36.1) scale(1,1.06)" text-anchor="middle" font-size="26.6" font-family="Liberation Sans, Arial, Helvetica, sans-serif">LH_Urban_effect</text>
<g mask="url(#fr)"><g transform="translate(75,60) scale(0.23223)"><rect x="0" y="0" width="2100" height="1400" fill="#c9c9ff"/><g filter="url(#bl)"><polygon points="880,180 1000,340 1150,450 1300,560 1450,620 1600,700 1750,740 2100,740 2100,0 880,0" fill="#ffeded"/><polygon points="700,150 880,180 1000,340 1150,450 1300,560 1450,620 1600,700 1500,850 1150,650 950,560 800,450 700,350" fill="#e8ebff"/><ellipse cx="850" cy="970" rx="280" ry="220" fill="#a6a6ff"/><ellipse cx="450" cy="800" rx="250" ry="100" fill="#c9c9ff"/><ellipse cx="1000" cy="1180" rx="250" ry="90" fill="#a6a6ff"/></g><g fill="#0808e0"><rect x="663" y="455" width="15" height="15"/><rect x="676" y="455" width="15" height="15"/><rect x="598" y="468" width="15" height="15"/><rect x="637" y="468" width="15" height="15"/><rect x="650" y="468" width="15" height="15"/><rect x="663" y="468" width="15" height="15"/><rect x="676" y="468" width="15" height="15"/><rect x="611" y="481" width="15" height="15"/><rect x="624" y="481" width="15" height="15"/><rect x="637" y="481" width="15" height="15"/><rect x="650" y="481" width="15" height="15"/><rect x="663" y="481" width="15" height="15"/><rect x="676" y="481" width="15" height="15"/><rect x="585" y="494" width="15" height="15"/><rect x="598" y="494" width="15" height="15"/><rect x="611" y="494" width="15" height="15"/><rect x="624" y="494" width="15" height="15"/><rect x="637" y="494" width="15" height="15"/><rect x="650" y="494" width="15" height="15"/><rect x="663" y="494" width="15" height="15"/><rect x="676" y="494" width="15" height="15"/><rect x="689" y="494" width="15" height="15"/><rect x="598" y="507" width="15" height="15"/><rect x="611" y="507" width="15" height="15"/><rect x="624" y="507" width="15" height="15"/><rect x="637" y="507" width="15" height="15"/><rect x="650" y="507" width="15" height="15"/><rect x="663" y="507" width="15" height="15"/><rect x="676" y="507" width="15" height="15"/><rect x="689" y="507" width="15" height="15"/><rect x="611" y="520" width="15" height="15"/><rect x="624" y="520" width="15" height="15"/><rect x="637" y="520" width="15" height="15"/><rect x="650" y="520" width="15" height="15"/><rect x="663" y="520" width="15" height="15"/><rect x="676" y="520" width="15" height="15"/><rect x="689" y="520" width="15" height="15"/><rect x="598" y="533" width="15" height="15"/><rect x="611" y="533" width="15" height="15"/><rect x="624" y="533" width="15" height="15"/><rect x="637" y="533" width="15" height="15"/><rect x="650" y="533" width="15" height="15"/><rect x="663" y="533" width="15" height="15"/><rect x="676" y="533" width="15" height="15"/><rect x="611" y="546" width="15" height="15"/><rect x="624" y="546" width="15" height="15"/><rect x="650" y="546" width="15" height="15"/><rect x="663" y="546" width="15" height="15"/><rect x="676" y="546" width="15" height="15"/><rect x="585" y="559" width="15" height="15"/><rect x="650" y="559" width="15" height="15"/><rect x="1313" y="735" width="15" height="15"/><rect x="1326" y="735" width="15" height="15"/><rect x="1339" y="735" width="15" height="15"/><rect x="1365" y="735" width="15" height="15"/><rect x="1300" y="748" width="15" height="15"/><rect x="1313" y="748" width="15" height="15"/><rect x="1326" y="748" width="15" height="15"/><rect x="1339" y="748" width="15" height="15"/><rect x="1365" y="748" width="15" height="15"/><rect x="1287" y="761" width="15" height="15"/><rect x="1300" y="761" width="15" height="15"/><rect x="1313" y="761" width="15" height="15"/><rect x="1326" y="761" width="15" height="15"/><rect x="1339" y="761" width="15" height="15"/><rect x="1365" y="761" width="15" height="15"/><rect x="1235" y="774" width="15" height="15"/><rect x="1248" y="774" width="15" height="15"/><rect x="1274" y="774" width="15" height="15"/><rect x="1287" y="774" width="15" height="15"/><rect x="1300" y="774" width="15" height="15"/><rect x="1313" y="774" width="15" height="15"/><rect x="1326" y="774" width="15" height="15"/><rect x="1339" y="774" width="15" height="15"/><rect x="1235" y="787" width="15" height="15"/><rect x="1248" y="787" width="15" height="15"/><rect x="1261" y="787" width="15" height="15"/><rect x="1274" y="787" width="15" height="15"/><rect x="1287" y="787" width="15" height="15"/><rect x="1300" y="787" width="15" height="15"/><rect x="1313" y="787" width="15" height="15"/><rect x="1326" y="787" width="15" height="15"/><rect x="1339" y="787" width="15" height="15"/><rect x="1261" y="800" width="15" height="15"/><rect x="1274" y="800" width="15" height="15"/><rect x="1287" y="800" width="15" height="15"/><rect x="1300" y="800" width="15" height="15"/><rect x="1313" y="800" width="15" height="15"/><rect x="1326" y="800" width="15" height="15"/><rect x="1339" y="800" width="15" height="15"/><rect x="1248" y="813" width="15" height="15"/><rect x="1287" y="813" width="15" height="15"/><rect x="1300" y="813" width="15" height="15"/><rect x="1313" y="813" width="15" height="15"/><rect x="1326" y="813" width="15" height="15"/><rect x="1339" y="813" width="15" height="15"/><rect x="1235" y="826" width="15" height="15"/><rect x="1287" y="826" width="15" height="15"/><rect x="1300" y="826" width="15" height="15"/><rect x="1235" y="839" width="15" height="15"/><rect x="1261" y="839" width="15" height="15"/><rect x="1274" y="839" width="15" height="15"/></g><g fill="#0808e0"><rect x="825" y="290" width="13" height="13"/><rect x="840" y="290" width="13" height="13"/><rect x="840" y="302" width="13" height="13"/><rect x="852" y="302" width="13" height="13"/><rect x="735" y="378" width="13" height="13"/><rect x="745" y="388" width="13" height="13"/><rect x="690" y="382" width="13" height="13"/><rect x="636" y="420" width="13" height="13"/><rect x="548" y="408" width="13" height="13"/><rect x="756" y="455" width="13" height="13"/><rect x="790" y="493" width="13" height="13"/><rect x="506" y="528" width="13" height="13"/><rect x="492" y="556" width="13" height="13"/><rect x="560" y="575" width="13" height="13"/><rect x="605" y="622" width="13" height="13"/><rect x="648" y="620" width="13" height="13"/><rect x="598" y="660" width="13" height="13"/><rect x="676" y="683" width="13" height="13"/><rect x="760" y="598" width="13" height="13"/><rect x="805" y="652" width="13" height="13"/><rect x="817" y="652" width="13" height="13"/><rect x="926" y="396" width="13" height="13"/><rect x="1012" y="455" width="13" height="13"/><rect x="970" y="527" width="13" height="13"/><rect x="1056" y="545" width="13" height="13"/><rect x="1066" y="555" width="13" height="13"/><rect x="1043" y="588" width="13" height="13"/><rect x="996" y="658" width="13" height="13"/><rect x="1126" y="633" width="13" height="13"/><rect x="1180" y="323" width="13" height="13"/><rect x="1250" y="348" width="13" height="13"/><rect x="1320" y="397" width="13" height="13"/><rect x="1190" y="472" width="13" height="13"/><rect x="1202" y="465" width="13" height="13"/><rect x="1214" y="460" width="13" height="13"/><rect x="1226" y="472" width="13" height="13"/><rect x="1193" y="517" width="13" height="13"/><rect x="1293" y="540" width="13" height="13"/><rect x="1337" y="560" width="13" height="13"/><rect x="1349" y="555" width="13" height="13"/><rect x="1405" y="550" width="13" height="13"/><rect x="1433" y="457" width="13" height="13"/><rect x="1560" y="358" width="13" height="13"/><rect x="1572" y="358" width="13" height="13"/><rect x="1812" y="358" width="13" height="13"/><rect x="1816" y="462" width="13" height="13"/><rect x="1643" y="503" width="13" height="13"/><rect x="1243" y="685" width="13" height="13"/><rect x="1255" y="692" width="13" height="13"/><rect x="1193" y="722" width="13" height="13"/><rect x="1457" y="722" width="13" height="13"/><rect x="1547" y="752" width="13" height="13"/><rect x="1643" y="707" width="13" height="13"/><rect x="1098" y="765" width="13" height="13"/><rect x="1068" y="835" width="13" height="13"/><rect x="1108" y="825" width="13" height="13"/><rect x="1153" y="852" width="13" height="13"/><rect x="1238" y="877" width="13" height="13"/><rect x="1268" y="873" width="13" height="13"/><rect x="1295" y="873" width="13" height="13"/><rect x="917" y="788" width="13" height="13"/><rect x="929" y="788" width="13" height="13"/><rect x="838" y="856" width="13" height="13"/><rect x="562" y="789" width="13" height="13"/><rect x="493" y="813" width="13" height="13"/><rect x="1018" y="983" width="13" height="13"/><rect x="1030" y="978" width="13" height="13"/><rect x="800" y="1008" width="13" height="13"/><rect x="812" y="1003" width="13" height="13"/><rect x="1535" y="587" width="13" height="13"/><rect x="848" y="212" width="13" height="13"/></g></g></g>
<use href="#lines"/>
<rect x="64.9" y="57.7" width="494.6" height="325.4" fill="none" stroke="#000" stroke-width="2.8"/>
<rect x="72.6" y="65.9" width="59.8" height="47.9" fill="#fff" stroke="#000" stroke-width="1.4"/>
<text x="102.5" y="97.3" text-anchor="middle" font-size="29" font-family="Liberation Sans, Arial, Helvetica, sans-serif" xml:space="preserve">( f )</text>
<path d="M54,96.6H64.9M54,157.0H64.9M54,217.4H64.9M54,277.8H64.9M54,338.2H64.9M105.3,383.1V393.7M226.4,383.1V393.7M347.5,383.1V393.7M468.6,383.1V393.7" stroke="#000" stroke-width="2.6" stroke-linecap="round"/>
<text x="46.6" y="101.2" text-anchor="end" font-size="13.4" font-family="Liberation Sans, Arial, Helvetica, sans-serif">32°N</text>
<text x="46.6" y="161.6" text-anchor="end" font-size="13.4" font-family="Liberation Sans, Arial, Helvetica, sans-serif">31°N</text>
<text x="46.6" y="222.0" text-anchor="end" font-size="13.4" font-family="Liberation Sans, Arial, Helvetica, sans-serif">30°N</text>
<text x="46.6" y="282.4" text-anchor="end" font-size="13.4" font-family="Liberation Sans, Arial, Helvetica, sans-serif">29°N</text>
<text x="46.6" y="342.8" text-anchor="end" font-size="13.4" font-family="Liberation Sans, Arial, Helvetica, sans-serif">28°N</text>
<text x="105.3" y="412.4" text-anchor="middle" font-size="13.4" font-family="Liberation Sans, Arial, Helvetica, sans-serif">102°E</text>
<text x="226.4" y="412.4" text-anchor="middle" font-size="13.4" font-family="Liberation Sans, Arial, Helvetica, sans-serif">104°E</text>
<text x="347.5" y="412.4" text-anchor="middle" font-size="13.4" font-family="Liberation Sans, Arial, Helvetica, sans-serif">106°E</text>
<text x="468.6" y="412.4" text-anchor="middle" font-size="13.4" font-family="Liberation Sans, Arial, Helvetica, sans-serif">108°E</text>
<rect x="591.5" y="366.25" width="29.0" height="12.05" fill="#060680"/>
<rect x="591.5" y="354.51" width="29.0" height="12.05" fill="#00009e"/>
<rect x="591.5" y="342.76" width="29.0" height="12.05" fill="#0808e0"/>
<rect x="591.5" y="331.02" width="29.0" height="12.05" fill="#0505ff"/>
<rect x="591.5" y="319.27" width="29.0" height="12.05" fill="#1010ff"/>
<rect x="591.5" y="307.53" width="29.0" height="12.05" fill="#4040ff"/>
<rect x="591.5" y="295.78" width="29.0" height="12.05" fill="#5f5fff"/>
<rect x="591.5" y="284.04" width="29.0" height="12.05" fill="#8282ff"/>
<rect x="591.5" y="272.29" width="29.0" height="12.05" fill="#a6a6ff"/>
<rect x="591.5" y="260.55" width="29.0" height="12.05" fill="#c9c9ff"/>
<rect x="591.5" y="248.80" width="29.0" height="12.05" fill="#e8ebff"/>
<rect x="591.5" y="237.05" width="29.0" height="12.05" fill="#ffeded"/>
<rect x="591.5" y="225.31" width="29.0" height="12.05" fill="#ffcaca"/>
<rect x="591.5" y="213.56" width="29.0" height="12.05" fill="#ffa6a6"/>
<rect x="591.5" y="201.82" width="29.0" height="12.05" fill="#ff8585"/>
<rect x="591.5" y="190.07" width="29.0" height="12.05" fill="#ff5f5f"/>
<rect x="591.5" y="178.33" width="29.0" height="12.05" fill="#ff3c3c"/>
<rect x="591.5" y="166.58" width="29.0" height="12.05" fill="#ff1e1e"/>
<rect x="591.5" y="154.84" width="29.0" height="12.05" fill="#ff0a0a"/>
<rect x="591.5" y="143.09" width="29.0" height="12.05" fill="#cc0000"/>
<rect x="591.5" y="131.35" width="29.0" height="12.05" fill="#b40000"/>
<rect x="591.5" y="119.60" width="29.0" height="12.05" fill="#930000"/>
<path d="M591.5,131.35H620.5M591.5,143.09H620.5M591.5,154.84H620.5M591.5,166.58H620.5M591.5,178.33H620.5M591.5,190.07H620.5M591.5,201.82H620.5M591.5,213.56H620.5M591.5,225.31H620.5M591.5,237.05H620.5M591.5,248.80H620.5M591.5,260.55H620.5M591.5,272.29H620.5M591.5,284.04H620.5M591.5,295.78H620.5M591.5,307.53H620.5M591.5,319.27H620.5M591.5,331.02H620.5M591.5,342.76H620.5M591.5,354.51H620.5M591.5,366.25H620.5" stroke="#000" stroke-width="1.5"/>
<rect x="591.5" y="119.6" width="29.0" height="258.4" fill="none" stroke="#000" stroke-width="1.6"/>
<text transform="translate(643,136.35) scale(1,1.09)" text-anchor="middle" font-size="14.6" font-family="Liberation Sans, Arial, Helvetica, sans-serif">110</text>
<text transform="translate(643,159.84) scale(1,1.09)" text-anchor="middle" font-size="14.6" font-family="Liberation Sans, Arial, Helvetica, sans-serif">88</text>
<text transform="translate(643,183.33) scale(1,1.09)" text-anchor="middle" font-size="14.6" font-family="Liberation Sans, Arial, Helvetica, sans-serif">66</text>
<text transform="translate(643,206.82) scale(1,1.09)" text-anchor="middle" font-size="14.6" font-family="Liberation Sans, Arial, Helvetica, sans-serif">44</text>
<text transform="translate(643,230.31) scale(1,1.09)" text-anchor="middle" font-size="14.6" font-family="Liberation Sans, Arial, Helvetica, sans-serif">22</text>
<text transform="translate(643,253.80) scale(1,1.09)" text-anchor="middle" font-size="14.6" font-family="Liberation Sans, Arial, Helvetica, sans-serif">0</text>
<text transform="translate(643,277.29) scale(1,1.09)" text-anchor="middle" font-size="14.6" font-family="Liberation Sans, Arial, Helvetica, sans-serif">-22</text>
<text transform="translate(643,300.78) scale(1,1.09)" text-anchor="middle" font-size="14.6" font-family="Liberation Sans, Arial, Helvetica, sans-serif">-44</text>
<text transform="translate(643,324.27) scale(1,1.09)" text-anchor="middle" font-size="14.6" font-family="Liberation Sans, Arial, Helvetica, sans-serif">-66</text>
<text transform="translate(643,347.76) scale(1,1.09)" text-anchor="middle" font-size="14.6" font-family="Liberation Sans, Arial, Helvetica, sans-serif">-88</text>
<text transform="translate(643,371.25) scale(1,1.09)" text-anchor="middle" font-size="14.6" font-family="Liberation Sans, Arial, Helvetica, sans-serif">-110</text>
<text transform="translate(597,96.6) scale(1,1.09)" font-size="22.5" font-family="Liberation Sans, Arial, Helvetica, sans-serif">W/m<tspan font-size="14" dy="-9.6">2</tspan></text>
</g>
<g transform="translate(695.5,838.0)">
<text transform="translate(312.2,36.1) scale(1,1.06)" text-anchor="middle" font-size="26.6" font-family="Liberation Sans, Arial, Helvetica, sans-serif">LH_ToPo_effect</text>
<g mask="url(#fr)"><g transform="translate(75,60) scale(0.23223)"><rect x="0" y="0" width="2100" height="1400" fill="#ffcaca"/><g filter="url(#bl)"><ellipse cx="1200" cy="430" rx="450" ry="170" fill="#ffa6a6"/><ellipse cx="850" cy="800" rx="180" ry="170" fill="#ffeded" opacity="0.55"/><ellipse cx="1420" cy="880" rx="130" ry="100" fill="#ff8585"/><ellipse cx="1450" cy="890" rx="50" ry="50" fill="#ff5f5f"/><ellipse cx="1150" cy="1200" rx="100" ry="60" fill="#ff8585"/><ellipse cx="1020" cy="1100" rx="60" ry="80" fill="#ff8585"/><ellipse cx="330" cy="790" rx="150" ry="75" fill="#4040ff"/><ellipse cx="440" cy="930" rx="70" ry="80" fill="#4040ff"/><ellipse cx="440" cy="1040" rx="40" ry="50" fill="#5f5fff"/><ellipse cx="200" cy="880" rx="70" ry="80" fill="#a6a6ff"/><ellipse cx="670" cy="280" rx="70" ry="50" fill="#1010ff"/><ellipse cx="570" cy="340" rx="50" ry="50" fill="#4040ff"/><ellipse cx="410" cy="520" rx="40" ry="80" fill="#5f5fff"/><ellipse cx="1880" cy="240" rx="50" ry="30" fill="#c9c9ff"/></g></g></g>
<use href="#lines"/>
<rect x="64.9" y="57.7" width="494.6" height="325.4" fill="none" stroke="#000" stroke-width="2.8"/>
<rect x="72.6" y="65.9" width="67.3" height="47.9" fill="#fff" stroke="#000" stroke-width="1.4"/>
<text x="106.2" y="97.3" text-anchor="middle" font-size="29" font-family="Liberation Sans, Arial, Helvetica, sans-serif" xml:space="preserve">( g )</text>
<path d="M54,96.6H64.9M54,157.0H64.9M54,217.4H64.9M54,277.8H64.9M54,338.2H64.9M105.3,383.1V393.7M226.4,383.1V393.7M347.5,383.1V393.7M468.6,383.1V393.7" stroke="#000" stroke-width="2.6" stroke-linecap="round"/>
<text x="46.6" y="101.2" text-anchor="end" font-size="13.4" font-family="Liberation Sans, Arial, Helvetica, sans-serif">32°N</text>
<text x="46.6" y="161.6" text-anchor="end" font-size="13.4" font-family="Liberation Sans, Arial, Helvetica, sans-serif">31°N</text>
<text x="46.6" y="222.0" text-anchor="end" font-size="13.4" font-family="Liberation Sans, Arial, Helvetica, sans-serif">30°N</text>
<text x="46.6" y="282.4" text-anchor="end" font-size="13.4" font-family="Liberation Sans, Arial, Helvetica, sans-serif">29°N</text>
<text x="46.6" y="342.8" text-anchor="end" font-size="13.4" font-family="Liberation Sans, Arial, Helvetica, sans-serif">28°N</text>
<text x="105.3" y="412.4" text-anchor="middle" font-size="13.4" font-family="Liberation Sans, Arial, Helvetica, sans-serif">102°E</text>
<text x="226.4" y="412.4" text-anchor="middle" font-size="13.4" font-family="Liberation Sans, Arial, Helvetica, sans-serif">104°E</text>
<text x="347.5" y="412.4" text-anchor="middle" font-size="13.4" font-family="Liberation Sans, Arial, Helvetica, sans-serif">106°E</text>
<text x="468.6" y="412.4" text-anchor="middle" font-size="13.4" font-family="Liberation Sans, Arial, Helvetica, sans-serif">108°E</text>
<rect x="595.0" y="366.25" width="29.0" height="12.05" fill="#060680"/>
<rect x="595.0" y="354.51" width="29.0" height="12.05" fill="#00009e"/>
<rect x="595.0" y="342.76" width="29.0" height="12.05" fill="#0808e0"/>
<rect x="595.0" y="331.02" width="29.0" height="12.05" fill="#0505ff"/>
<rect x="595.0" y="319.27" width="29.0" height="12.05" fill="#1010ff"/>
<rect x="595.0" y="307.53" width="29.0" height="12.05" fill="#4040ff"/>
<rect x="595.0" y="295.78" width="29.0" height="12.05" fill="#5f5fff"/>
<rect x="595.0" y="284.04" width="29.0" height="12.05" fill="#8282ff"/>
<rect x="595.0" y="272.29" width="29.0" height="12.05" fill="#a6a6ff"/>
<rect x="595.0" y="260.55" width="29.0" height="12.05" fill="#c9c9ff"/>
<rect x="595.0" y="248.80" width="29.0" height="12.05" fill="#e8ebff"/>
<rect x="595.0" y="237.05" width="29.0" height="12.05" fill="#ffeded"/>
<rect x="595.0" y="225.31" width="29.0" height="12.05" fill="#ffcaca"/>
<rect x="595.0" y="213.56" width="29.0" height="12.05" fill="#ffa6a6"/>
<rect x="595.0" y="201.82" width="29.0" height="12.05" fill="#ff8585"/>
<rect x="595.0" y="190.07" width="29.0" height="12.05" fill="#ff5f5f"/>
<rect x="595.0" y="178.33" width="29.0" height="12.05" fill="#ff3c3c"/>
<rect x="595.0" y="166.58" width="29.0" height="12.05" fill="#ff1e1e"/>
<rect x="595.0" y="154.84" width="29.0" height="12.05" fill="#ff0a0a"/>
<rect x="595.0" y="143.09" width="29.0" height="12.05" fill="#cc0000"/>
<rect x="595.0" y="131.35" width="29.0" height="12.05" fill="#b40000"/>
<rect x="595.0" y="119.60" width="29.0" height="12.05" fill="#930000"/>
<path d="M595.0,131.35H624.0M595.0,143.09H624.0M595.0,154.84H624.0M595.0,166.58H624.0M595.0,178.33H624.0M595.0,190.07H624.0M595.0,201.82H624.0M595.0,213.56H624.0M595.0,225.31H624.0M595.0,237.05H624.0M595.0,248.80H624.0M595.0,260.55H624.0M595.0,272.29H624.0M595.0,284.04H624.0M595.0,295.78H624.0M595.0,307.53H624.0M595.0,319.27H624.0M595.0,331.02H624.0M595.0,342.76H624.0M595.0,354.51H624.0M595.0,366.25H624.0" stroke="#000" stroke-width="1.5"/>
<rect x="595.0" y="119.6" width="29.0" height="258.4" fill="none" stroke="#000" stroke-width="1.6"/>
<text transform="translate(643,136.35) scale(1,1.09)" text-anchor="middle" font-size="14.6" font-family="Liberation Sans, Arial, Helvetica, sans-serif">90</text>
<text transform="translate(643,159.84) scale(1,1.09)" text-anchor="middle" font-size="14.6" font-family="Liberation Sans, Arial, Helvetica, sans-serif">72</text>
<text transform="translate(643,183.33) scale(1,1.09)" text-anchor="middle" font-size="14.6" font-family="Liberation Sans, Arial, Helvetica, sans-serif">54</text>
<text transform="translate(643,206.82) scale(1,1.09)" text-anchor="middle" font-size="14.6" font-family="Liberation Sans, Arial, Helvetica, sans-serif">36</text>
<text transform="translate(643,230.31) scale(1,1.09)" text-anchor="middle" font-size="14.6" font-family="Liberation Sans, Arial, Helvetica, sans-serif">18</text>
<text transform="translate(643,253.80) scale(1,1.09)" text-anchor="middle" font-size="14.6" font-family="Liberation Sans, Arial, Helvetica, sans-serif">0</text>
<text transform="translate(643,277.29) scale(1,1.09)" text-anchor="middle" font-size="14.6" font-family="Liberation Sans, Arial, Helvetica, sans-serif">-18</text>
<text transform="translate(643,300.78) scale(1,1.09)" text-anchor="middle" font-size="14.6" font-family="Liberation Sans, Arial, Helvetica, sans-serif">-36</text>
<text transform="translate(643,324.27) scale(1,1.09)" text-anchor="middle" font-size="14.6" font-family="Liberation Sans, Arial, Helvetica, sans-serif">-54</text>
<text transform="translate(643,347.76) scale(1,1.09)" text-anchor="middle" font-size="14.6" font-family="Liberation Sans, Arial, Helvetica, sans-serif">-72</text>
<text transform="translate(643,371.25) scale(1,1.09)" text-anchor="middle" font-size="14.6" font-family="Liberation Sans, Arial, Helvetica, sans-serif">-90</text>
<text transform="translate(597,96.6) scale(1,1.09)" font-size="22.5" font-family="Liberation Sans, Arial, Helvetica, sans-serif">W/m<tspan font-size="14" dy="-9.6">2</tspan></text>
</g>
<g transform="translate(695.5,1257.0)">
<text transform="translate(312.2,36.1) scale(1,1.06)" text-anchor="middle" font-size="26.6" font-family="Liberation Sans, Arial, Helvetica, sans-serif">LH_Urban&amp;ToPo Interaction</text>
<g mask="url(#fr)"><g transform="translate(75,60) scale(0.23223)"><rect x="0" y="0" width="2100" height="1400" fill="#ffa6a6"/><g filter="url(#bl)"><polygon points="700,0 2100,0 2100,650 1700,700 1400,620 1100,570 900,520 760,380" fill="#e8ebff"/><ellipse cx="1150" cy="350" rx="150" ry="80" fill="#c9c9ff"/><ellipse cx="1550" cy="430" rx="80" ry="50" fill="#c9c9ff"/><ellipse cx="850" cy="950" rx="300" ry="200" fill="#ff8585"/><ellipse cx="500" cy="800" rx="200" ry="150" fill="#ffa6a6"/><ellipse cx="1000" cy="1150" rx="150" ry="80" fill="#ff8585"/><ellipse cx="860" cy="300" rx="40" ry="25" fill="#c9c9ff"/><ellipse cx="1205" cy="470" rx="30" ry="25" fill="#c9c9ff"/></g><g fill="#a6a6ff"><rect x="663" y="455" width="15" height="15"/><rect x="676" y="455" width="15" height="15"/><rect x="598" y="468" width="15" height="15"/><rect x="637" y="468" width="15" height="15"/><rect x="650" y="468" width="15" height="15"/><rect x="663" y="468" width="15" height="15"/><rect x="676" y="468" width="15" height="15"/><rect x="611" y="481" width="15" height="15"/><rect x="624" y="481" width="15" height="15"/><rect x="637" y="481" width="15" height="15"/><rect x="650" y="481" width="15" height="15"/><rect x="663" y="481" width="15" height="15"/><rect x="676" y="481" width="15" height="15"/><rect x="585" y="494" width="15" height="15"/><rect x="598" y="494" width="15" height="15"/><rect x="611" y="494" width="15" height="15"/><rect x="624" y="494" width="15" height="15"/><rect x="637" y="494" width="15" height="15"/><rect x="650" y="494" width="15" height="15"/><rect x="663" y="494" width="15" height="15"/><rect x="676" y="494" width="15" height="15"/><rect x="689" y="494" width="15" height="15"/><rect x="598" y="507" width="15" height="15"/><rect x="611" y="507" width="15" height="15"/><rect x="624" y="507" width="15" height="15"/><rect x="637" y="507" width="15" height="15"/><rect x="650" y="507" width="15" height="15"/><rect x="663" y="507" width="15" height="15"/><rect x="676" y="507" width="15" height="15"/><rect x="689" y="507" width="15" height="15"/><rect x="611" y="520" width="15" height="15"/><rect x="624" y="520" width="15" height="15"/><rect x="637" y="520" width="15" height="15"/><rect x="650" y="520" width="15" height="15"/><rect x="663" y="520" width="15" height="15"/><rect x="676" y="520" width="15" height="15"/><rect x="689" y="520" width="15" height="15"/><rect x="598" y="533" width="15" height="15"/><rect x="611" y="533" width="15" height="15"/><rect x="624" y="533" width="15" height="15"/><rect x="637" y="533" width="15" height="15"/><rect x="650" y="533" width="15" height="15"/><rect x="663" y="533" width="15" height="15"/><rect x="676" y="533" width="15" height="15"/><rect x="611" y="546" width="15" height="15"/><rect x="624" y="546" width="15" height="15"/><rect x="650" y="546" width="15" height="15"/><rect x="663" y="546" width="15" height="15"/><rect x="676" y="546" width="15" height="15"/><rect x="585" y="559" width="15" height="15"/><rect x="650" y="559" width="15" height="15"/></g><g fill="#e8ebff"><rect x="1313" y="735" width="15" height="15"/><rect x="1326" y="735" width="15" height="15"/><rect x="1339" y="735" width="15" height="15"/><rect x="1365" y="735" width="15" height="15"/><rect x="1300" y="748" width="15" height="15"/><rect x="1313" y="748" width="15" height="15"/><rect x="1326" y="748" width="15" height="15"/><rect x="1339" y="748" width="15" height="15"/><rect x="1365" y="748" width="15" height="15"/><rect x="1287" y="761" width="15" height="15"/><rect x="1300" y="761" width="15" height="15"/><rect x="1313" y="761" width="15" height="15"/><rect x="1326" y="761" width="15" height="15"/><rect x="1339" y="761" width="15" height="15"/><rect x="1365" y="761" width="15" height="15"/><rect x="1235" y="774" width="15" height="15"/><rect x="1248" y="774" width="15" height="15"/><rect x="1274" y="774" width="15" height="15"/><rect x="1287" y="774" width="15" height="15"/><rect x="1300" y="774" width="15" height="15"/><rect x="1313" y="774" width="15" height="15"/><rect x="1326" y="774" width="15" height="15"/><rect x="1339" y="774" width="15" height="15"/><rect x="1235" y="787" width="15" height="15"/><rect x="1248" y="787" width="15" height="15"/><rect x="1261" y="787" width="15" height="15"/><rect x="1274" y="787" width="15" height="15"/><rect x="1287" y="787" width="15" height="15"/><rect x="1300" y="787" width="15" height="15"/><rect x="1313" y="787" width="15" height="15"/><rect x="1326" y="787" width="15" height="15"/><rect x="1339" y="787" width="15" height="15"/><rect x="1261" y="800" width="15" height="15"/><rect x="1274" y="800" width="15" height="15"/><rect x="1287" y="800" width="15" height="15"/><rect x="1300" y="800" width="15" height="15"/><rect x="1313" y="800" width="15" height="15"/><rect x="1326" y="800" width="15" height="15"/><rect x="1339" y="800" width="15" height="15"/><rect x="1248" y="813" width="15" height="15"/><rect x="1287" y="813" width="15" height="15"/><rect x="1300" y="813" width="15" height="15"/><rect x="1313" y="813" width="15" height="15"/><rect x="1326" y="813" width="15" height="15"/><rect x="1339" y="813" width="15" height="15"/><rect x="1235" y="826" width="15" height="15"/><rect x="1287" y="826" width="15" height="15"/><rect x="1300" y="826" width="15" height="15"/><rect x="1235" y="839" width="15" height="15"/><rect x="1261" y="839" width="15" height="15"/><rect x="1274" y="839" width="15" height="15"/></g></g></g>
<use href="#lines"/>
<rect x="64.9" y="57.7" width="494.6" height="325.4" fill="none" stroke="#000" stroke-width="2.8"/>
<rect x="72.6" y="65.9" width="67.3" height="47.9" fill="#fff" stroke="#000" stroke-width="1.4"/>
<text x="106.2" y="97.3" text-anchor="middle" font-size="29" font-family="Liberation Sans, Arial, Helvetica, sans-serif" xml:space="preserve">( h )</text>
<path d="M54,96.6H64.9M54,157.0H64.9M54,217.4H64.9M54,277.8H64.9M54,338.2H64.9M105.3,383.1V393.7M226.4,383.1V393.7M347.5,383.1V393.7M468.6,383.1V393.7" stroke="#000" stroke-width="2.6" stroke-linecap="round"/>
<text x="46.6" y="101.2" text-anchor="end" font-size="13.4" font-family="Liberation Sans, Arial, Helvetica, sans-serif">32°N</text>
<text x="46.6" y="161.6" text-anchor="end" font-size="13.4" font-family="Liberation Sans, Arial, Helvetica, sans-serif">31°N</text>
<text x="46.6" y="222.0" text-anchor="end" font-size="13.4" font-family="Liberation Sans, Arial, Helvetica, sans-serif">30°N</text>
<text x="46.6" y="282.4" text-anchor="end" font-size="13.4" font-family="Liberation Sans, Arial, Helvetica, sans-serif">29°N</text>
<text x="46.6" y="342.8" text-anchor="end" font-size="13.4" font-family="Liberation Sans, Arial, Helvetica, sans-serif">28°N</text>
<text x="105.3" y="412.4" text-anchor="middle" font-size="13.4" font-family="Liberation Sans, Arial, Helvetica, sans-serif">102°E</text>
<text x="226.4" y="412.4" text-anchor="middle" font-size="13.4" font-family="Liberation Sans, Arial, Helvetica, sans-serif">104°E</text>
<text x="347.5" y="412.4" text-anchor="middle" font-size="13.4" font-family="Liberation Sans, Arial, Helvetica, sans-serif">106°E</text>
<text x="468.6" y="412.4" text-anchor="middle" font-size="13.4" font-family="Liberation Sans, Arial, Helvetica, sans-serif">108°E</text>
<rect x="595.0" y="366.25" width="29.0" height="12.05" fill="#060680"/>
<rect x="595.0" y="354.51" width="29.0" height="12.05" fill="#00009e"/>
<rect x="595.0" y="342.76" width="29.0" height="12.05" fill="#0808e0"/>
<rect x="595.0" y="331.02" width="29.0" height="12.05" fill="#0505ff"/>
<rect x="595.0" y="319.27" width="29.0" height="12.05" fill="#1010ff"/>
<rect x="595.0" y="307.53" width="29.0" height="12.05" fill="#4040ff"/>
<rect x="595.0" y="295.78" width="29.0" height="12.05" fill="#5f5fff"/>
<rect x="595.0" y="284.04" width="29.0" height="12.05" fill="#8282ff"/>
<rect x="595.0" y="272.29" width="29.0" height="12.05" fill="#a6a6ff"/>
<rect x="595.0" y="260.55" width="29.0" height="12.05" fill="#c9c9ff"/>
<rect x="595.0" y="248.80" width="29.0" height="12.05" fill="#e8ebff"/>
<rect x="595.0" y="237.05" width="29.0" height="12.05" fill="#ffeded"/>
<rect x="595.0" y="225.31" width="29.0" height="12.05" fill="#ffcaca"/>
<rect x="595.0" y="213.56" width="29.0" height="12.05" fill="#ffa6a6"/>
<rect x="595.0" y="201.82" width="29.0" height="12.05" fill="#ff8585"/>
<rect x="595.0" y="190.07" width="29.0" height="12.05" fill="#ff5f5f"/>
<rect x="595.0" y="178.33" width="29.0" height="12.05" fill="#ff3c3c"/>
<rect x="595.0" y="166.58" width="29.0" height="12.05" fill="#ff1e1e"/>
<rect x="595.0" y="154.84" width="29.0" height="12.05" fill="#ff0a0a"/>
<rect x="595.0" y="143.09" width="29.0" height="12.05" fill="#cc0000"/>
<rect x="595.0" y="131.35" width="29.0" height="12.05" fill="#b40000"/>
<rect x="595.0" y="119.60" width="29.0" height="12.05" fill="#930000"/>
<path d="M595.0,131.35H624.0M595.0,143.09H624.0M595.0,154.84H624.0M595.0,166.58H624.0M595.0,178.33H624.0M595.0,190.07H624.0M595.0,201.82H624.0M595.0,213.56H624.0M595.0,225.31H624.0M595.0,237.05H624.0M595.0,248.80H624.0M595.0,260.55H624.0M595.0,272.29H624.0M595.0,284.04H624.0M595.0,295.78H624.0M595.0,307.53H624.0M595.0,319.27H624.0M595.0,331.02H624.0M595.0,342.76H624.0M595.0,354.51H624.0M595.0,366.25H624.0" stroke="#000" stroke-width="1.5"/>
<rect x="595.0" y="119.6" width="29.0" height="258.4" fill="none" stroke="#000" stroke-width="1.6"/>
<text transform="translate(643,136.35) scale(1,1.09)" text-anchor="middle" font-size="14.6" font-family="Liberation Sans, Arial, Helvetica, sans-serif">60</text>
<text transform="translate(643,159.84) scale(1,1.09)" text-anchor="middle" font-size="14.6" font-family="Liberation Sans, Arial, Helvetica, sans-serif">48</text>
<text transform="translate(643,183.33) scale(1,1.09)" text-anchor="middle" font-size="14.6" font-family="Liberation Sans, Arial, Helvetica, sans-serif">36</text>
<text transform="translate(643,206.82) scale(1,1.09)" text-anchor="middle" font-size="14.6" font-family="Liberation Sans, Arial, Helvetica, sans-serif">24</text>
<text transform="translate(643,230.31) scale(1,1.09)" text-anchor="middle" font-size="14.6" font-family="Liberation Sans, Arial, Helvetica, sans-serif">12</text>
<text transform="translate(643,253.80) scale(1,1.09)" text-anchor="middle" font-size="14.6" font-family="Liberation Sans, Arial, Helvetica, sans-serif">0</text>
<text transform="translate(643,277.29) scale(1,1.09)" text-anchor="middle" font-size="14.6" font-family="Liberation Sans, Arial, Helvetica, sans-serif">-12</text>
<text transform="translate(643,300.78) scale(1,1.09)" text-anchor="middle" font-size="14.6" font-family="Liberation Sans, Arial, Helvetica, sans-serif">-24</text>
<text transform="translate(643,324.27) scale(1,1.09)" text-anchor="middle" font-size="14.6" font-family="Liberation Sans, Arial, Helvetica, sans-serif">-36</text>
<text transform="translate(643,347.76) scale(1,1.09)" text-anchor="middle" font-size="14.6" font-family="Liberation Sans, Arial, Helvetica, sans-serif">-48</text>
<text transform="translate(643,371.25) scale(1,1.09)" text-anchor="middle" font-size="14.6" font-family="Liberation Sans, Arial, Helvetica, sans-serif">-60</text>
<text transform="translate(597,96.6) scale(1,1.09)" font-size="22.5" font-family="Liberation Sans, Arial, Helvetica, sans-serif">W/m<tspan font-size="14" dy="-9.6">2</tspan></text>
</g>
<g transform="translate(1391.0,0.0)">
<text transform="translate(312.2,36.1) scale(1,1.06)" text-anchor="middle" font-size="26.6" font-family="Liberation Sans, Arial, Helvetica, sans-serif">PBLH_2018Landuse</text>
<g mask="url(#fr)"><g transform="translate(75,60) scale(0.23223)"><rect x="0" y="0" width="2100" height="1400" fill="url(#gi)"/><g filter="url(#bl)"><ellipse cx="230" cy="850" rx="170" ry="140" fill="#fee3be"/><ellipse cx="470" cy="900" rx="120" ry="140" fill="#fdd7a4"/><ellipse cx="700" cy="450" rx="200" ry="150" fill="#fdc892"/><ellipse cx="1300" cy="790" rx="200" ry="220" fill="#e24832" transform="rotate(-30 1300 790)"/><ellipse cx="1320" cy="790" rx="80" ry="100" fill="#d1291a" transform="rotate(-30 1320 790)"/><ellipse cx="1820" cy="380" rx="70" ry="150" fill="#d1291a"/><ellipse cx="1600" cy="450" rx="260" ry="130" fill="#f06849" transform="rotate(-35 1600 450)"/><ellipse cx="1050" cy="1100" rx="200" ry="130" fill="#fc9b66"/><ellipse cx="1100" cy="1230" rx="150" ry="60" fill="#fdc892"/><ellipse cx="1150" cy="400" rx="120" ry="100" fill="#f88154"/></g></g></g>
<use href="#lines"/>
<rect x="64.9" y="57.7" width="494.6" height="325.4" fill="none" stroke="#000" stroke-width="2.8"/>
<rect x="72.6" y="65.9" width="57.9" height="47.9" fill="#fff" stroke="#000" stroke-width="1.4"/>
<text x="101.5" y="97.3" text-anchor="middle" font-size="29" font-family="Liberation Sans, Arial, Helvetica, sans-serif" xml:space="preserve">( i )</text>
<path d="M54,96.6H64.9M54,157.0H64.9M54,217.4H64.9M54,277.8H64.9M54,338.2H64.9M105.3,383.1V393.7M226.4,383.1V393.7M347.5,383.1V393.7M468.6,383.1V393.7" stroke="#000" stroke-width="2.6" stroke-linecap="round"/>
<text x="46.6" y="101.2" text-anchor="end" font-size="13.4" font-family="Liberation Sans, Arial, Helvetica, sans-serif">32°N</text>
<text x="46.6" y="161.6" text-anchor="end" font-size="13.4" font-family="Liberation Sans, Arial, Helvetica, sans-serif">31°N</text>
<text x="46.6" y="222.0" text-anchor="end" font-size="13.4" font-family="Liberation Sans, Arial, Helvetica, sans-serif">30°N</text>
<text x="46.6" y="282.4" text-anchor="end" font-size="13.4" font-family="Liberation Sans, Arial, Helvetica, sans-serif">29°N</text>
<text x="46.6" y="342.8" text-anchor="end" font-size="13.4" font-family="Liberation Sans, Arial, Helvetica, sans-serif">28°N</text>
<text x="105.3" y="412.4" text-anchor="middle" font-size="13.4" font-family="Liberation Sans, Arial, Helvetica, sans-serif">102°E</text>
<text x="226.4" y="412.4" text-anchor="middle" font-size="13.4" font-family="Liberation Sans, Arial, Helvetica, sans-serif">104°E</text>
<text x="347.5" y="412.4" text-anchor="middle" font-size="13.4" font-family="Liberation Sans, Arial, Helvetica, sans-serif">106°E</text>
<text x="468.6" y="412.4" text-anchor="middle" font-size="13.4" font-family="Liberation Sans, Arial, Helvetica, sans-serif">108°E</text>
<rect x="595.0" y="359.54" width="29.0" height="18.76" fill="#fff7ec"/>
<rect x="595.0" y="341.09" width="29.0" height="18.76" fill="#feeed6"/>
<rect x="595.0" y="322.63" width="29.0" height="18.76" fill="#fee3be"/>
<rect x="595.0" y="304.17" width="29.0" height="18.76" fill="#fdd7a4"/>
<rect x="595.0" y="285.71" width="29.0" height="18.76" fill="#fdc892"/>
<rect x="595.0" y="267.26" width="29.0" height="18.76" fill="#fdb781"/>
<rect x="595.0" y="248.80" width="29.0" height="18.76" fill="#fc9b66"/>
<rect x="595.0" y="230.34" width="29.0" height="18.76" fill="#f88154"/>
<rect x="595.0" y="211.89" width="29.0" height="18.76" fill="#f06849"/>
<rect x="595.0" y="193.43" width="29.0" height="18.76" fill="#e24832"/>
<rect x="595.0" y="174.97" width="29.0" height="18.76" fill="#d1291a"/>
<rect x="595.0" y="156.51" width="29.0" height="18.76" fill="#bb0b07"/>
<rect x="595.0" y="138.06" width="29.0" height="18.76" fill="#9f0000"/>
<rect x="595.0" y="119.60" width="29.0" height="18.76" fill="#7f0000"/>
<path d="M595.0,138.06H624.0M595.0,156.51H624.0M595.0,174.97H624.0M595.0,193.43H624.0M595.0,211.89H624.0M595.0,230.34H624.0M595.0,248.80H624.0M595.0,267.26H624.0M595.0,285.71H624.0M595.0,304.17H624.0M595.0,322.63H624.0M595.0,341.09H624.0M595.0,359.54H624.0" stroke="#000" stroke-width="1.5"/>
<rect x="595.0" y="119.6" width="29.0" height="258.4" fill="none" stroke="#000" stroke-width="1.6"/>
<text transform="translate(643,143.06) scale(1,1.09)" text-anchor="middle" font-size="14.6" font-family="Liberation Sans, Arial, Helvetica, sans-serif">940</text>
<text transform="translate(643,161.51) scale(1,1.09)" text-anchor="middle" font-size="14.6" font-family="Liberation Sans, Arial, Helvetica, sans-serif">889</text>
<text transform="translate(643,179.97) scale(1,1.09)" text-anchor="middle" font-size="14.6" font-family="Liberation Sans, Arial, Helvetica, sans-serif">830</text>
<text transform="translate(643,198.43) scale(1,1.09)" text-anchor="middle" font-size="14.6" font-family="Liberation Sans, Arial, Helvetica, sans-serif">771</text>
<text transform="translate(643,216.89) scale(1,1.09)" text-anchor="middle" font-size="14.6" font-family="Liberation Sans, Arial, Helvetica, sans-serif">712</text>
<text transform="translate(643,235.34) scale(1,1.09)" text-anchor="middle" font-size="14.6" font-family="Liberation Sans, Arial, Helvetica, sans-serif">653</text>
<text transform="translate(643,253.80) scale(1,1.09)" text-anchor="middle" font-size="14.6" font-family="Liberation Sans, Arial, Helvetica, sans-serif">594</text>
<text transform="translate(643,272.26) scale(1,1.09)" text-anchor="middle" font-size="14.6" font-family="Liberation Sans, Arial, Helvetica, sans-serif">535</text>
<text transform="translate(643,290.71) scale(1,1.09)" text-anchor="middle" font-size="14.6" font-family="Liberation Sans, Arial, Helvetica, sans-serif">476</text>
<text transform="translate(643,309.17) scale(1,1.09)" text-anchor="middle" font-size="14.6" font-family="Liberation Sans, Arial, Helvetica, sans-serif">417</text>
<text transform="translate(643,327.63) scale(1,1.09)" text-anchor="middle" font-size="14.6" font-family="Liberation Sans, Arial, Helvetica, sans-serif">358</text>
<text transform="translate(643,346.09) scale(1,1.09)" text-anchor="middle" font-size="14.6" font-family="Liberation Sans, Arial, Helvetica, sans-serif">299</text>
<text transform="translate(643,364.54) scale(1,1.09)" text-anchor="middle" font-size="14.6" font-family="Liberation Sans, Arial, Helvetica, sans-serif">240</text>
<text x="624.3" y="92.3" text-anchor="middle" font-size="22.8" font-family="Liberation Sans, Arial, Helvetica, sans-serif">m</text>
</g>
<g transform="translate(1391.0,419.0)">
<text transform="translate(312.2,36.1) scale(1,1.06)" text-anchor="middle" font-size="26.6" font-family="Liberation Sans, Arial, Helvetica, sans-serif">PBLH_Urban_effect</text>
<g mask="url(#fr)"><g transform="translate(75,60) scale(0.23223)"><rect x="0" y="0" width="2100" height="1400" fill="url(#gj)"/><g filter="url(#bl)"><ellipse cx="200" cy="830" rx="130" ry="110" fill="#4040ff"/><ellipse cx="620" cy="820" rx="280" ry="170" fill="#5f5fff"/><ellipse cx="560" cy="420" rx="140" ry="110" fill="#5f5fff"/><ellipse cx="660" cy="510" rx="55" ry="45" fill="#ffeded"/><ellipse cx="770" cy="570" rx="90" ry="40" fill="#a6a6ff"/><ellipse cx="1000" cy="1180" rx="150" ry="100" fill="#e8ebff"/><ellipse cx="1230" cy="440" rx="230" ry="150" fill="#ff5f5f"/><ellipse cx="1220" cy="470" rx="70" ry="50" fill="#ff1e1e"/><ellipse cx="1350" cy="790" rx="80" ry="60" fill="#ff3c3c"/><ellipse cx="940" cy="150" rx="50" ry="70" fill="#ffeded"/><ellipse cx="1330" cy="680" rx="150" ry="120" fill="#ff8585"/><ellipse cx="1430" cy="960" rx="120" ry="70" fill="#ffcaca"/><ellipse cx="1650" cy="420" rx="230" ry="150" fill="#ff8585"/><ellipse cx="1820" cy="450" rx="60" ry="40" fill="#ff5f5f"/><ellipse cx="1150" cy="300" rx="140" ry="80" fill="#ff5f5f"/></g><g filter="url(#bl2)"><ellipse cx="1340" cy="795" rx="40" ry="35" fill="#cc0000"/><ellipse cx="1330" cy="800" rx="70" ry="45" fill="#ff1e1e" transform="rotate(-30 1330 800)" opacity="0.7"/></g></g></g>
<use href="#lines"/>
<rect x="64.9" y="57.7" width="494.6" height="325.4" fill="none" stroke="#000" stroke-width="2.8"/>
<rect x="72.6" y="65.9" width="57.9" height="47.9" fill="#fff" stroke="#000" stroke-width="1.4"/>
<text x="101.5" y="97.3" text-anchor="middle" font-size="29" font-family="Liberation Sans, Arial, Helvetica, sans-serif" xml:space="preserve">( j )</text>
<path d="M54,96.6H64.9M54,157.0H64.9M54,217.4H64.9M54,277.8H64.9M54,338.2H64.9M105.3,383.1V393.7M226.4,383.1V393.7M347.5,383.1V393.7M468.6,383.1V393.7" stroke="#000" stroke-width="2.6" stroke-linecap="round"/>
<text x="46.6" y="101.2" text-anchor="end" font-size="13.4" font-family="Liberation Sans, Arial, Helvetica, sans-serif">32°N</text>
<text x="46.6" y="161.6" text-anchor="end" font-size="13.4" font-family="Liberation Sans, Arial, Helvetica, sans-serif">31°N</text>
<text x="46.6" y="222.0" text-anchor="end" font-size="13.4" font-family="Liberation Sans, Arial, Helvetica, sans-serif">30°N</text>
<text x="46.6" y="282.4" text-anchor="end" font-size="13.4" font-family="Liberation Sans, Arial, Helvetica, sans-serif">29°N</text>
<text x="46.6" y="342.8" text-anchor="end" font-size="13.4" font-family="Liberation Sans, Arial, Helvetica, sans-serif">28°N</text>
<text x="105.3" y="412.4" text-anchor="middle" font-size="13.4" font-family="Liberation Sans, Arial, Helvetica, sans-serif">102°E</text>
<text x="226.4" y="412.4" text-anchor="middle" font-size="13.4" font-family="Liberation Sans, Arial, Helvetica, sans-serif">104°E</text>
<text x="347.5" y="412.4" text-anchor="middle" font-size="13.4" font-family="Liberation Sans, Arial, Helvetica, sans-serif">106°E</text>
<text x="468.6" y="412.4" text-anchor="middle" font-size="13.4" font-family="Liberation Sans, Arial, Helvetica, sans-serif">108°E</text>
<rect x="591.5" y="366.25" width="29.0" height="12.05" fill="#060680"/>
<rect x="591.5" y="354.51" width="29.0" height="12.05" fill="#00009e"/>
<rect x="591.5" y="342.76" width="29.0" height="12.05" fill="#0808e0"/>
<rect x="591.5" y="331.02" width="29.0" height="12.05" fill="#0505ff"/>
<rect x="591.5" y="319.27" width="29.0" height="12.05" fill="#1010ff"/>
<rect x="591.5" y="307.53" width="29.0" height="12.05" fill="#4040ff"/>
<rect x="591.5" y="295.78" width="29.0" height="12.05" fill="#5f5fff"/>
<rect x="591.5" y="284.04" width="29.0" height="12.05" fill="#8282ff"/>
<rect x="591.5" y="272.29" width="29.0" height="12.05" fill="#a6a6ff"/>
<rect x="591.5" y="260.55" width="29.0" height="12.05" fill="#c9c9ff"/>
<rect x="591.5" y="248.80" width="29.0" height="12.05" fill="#e8ebff"/>
<rect x="591.5" y="237.05" width="29.0" height="12.05" fill="#ffeded"/>
<rect x="591.5" y="225.31" width="29.0" height="12.05" fill="#ffcaca"/>
<rect x="591.5" y="213.56" width="29.0" height="12.05" fill="#ffa6a6"/>
<rect x="591.5" y="201.82" width="29.0" height="12.05" fill="#ff8585"/>
<rect x="591.5" y="190.07" width="29.0" height="12.05" fill="#ff5f5f"/>
<rect x="591.5" y="178.33" width="29.0" height="12.05" fill="#ff3c3c"/>
<rect x="591.5" y="166.58" width="29.0" height="12.05" fill="#ff1e1e"/>
<rect x="591.5" y="154.84" width="29.0" height="12.05" fill="#ff0a0a"/>
<rect x="591.5" y="143.09" width="29.0" height="12.05" fill="#cc0000"/>
<rect x="591.5" y="131.35" width="29.0" height="12.05" fill="#b40000"/>
<rect x="591.5" y="119.60" width="29.0" height="12.05" fill="#930000"/>
<path d="M591.5,131.35H620.5M591.5,143.09H620.5M591.5,154.84H620.5M591.5,166.58H620.5M591.5,178.33H620.5M591.5,190.07H620.5M591.5,201.82H620.5M591.5,213.56H620.5M591.5,225.31H620.5M591.5,237.05H620.5M591.5,248.80H620.5M591.5,260.55H620.5M591.5,272.29H620.5M591.5,284.04H620.5M591.5,295.78H620.5M591.5,307.53H620.5M591.5,319.27H620.5M591.5,331.02H620.5M591.5,342.76H620.5M591.5,354.51H620.5M591.5,366.25H620.5" stroke="#000" stroke-width="1.5"/>
<rect x="591.5" y="119.6" width="29.0" height="258.4" fill="none" stroke="#000" stroke-width="1.6"/>
<text transform="translate(643,136.35) scale(1,1.09)" text-anchor="middle" font-size="14.6" font-family="Liberation Sans, Arial, Helvetica, sans-serif">170</text>
<text transform="translate(643,159.84) scale(1,1.09)" text-anchor="middle" font-size="14.6" font-family="Liberation Sans, Arial, Helvetica, sans-serif">136</text>
<text transform="translate(643,183.33) scale(1,1.09)" text-anchor="middle" font-size="14.6" font-family="Liberation Sans, Arial, Helvetica, sans-serif">102</text>
<text transform="translate(643,206.82) scale(1,1.09)" text-anchor="middle" font-size="14.6" font-family="Liberation Sans, Arial, Helvetica, sans-serif">68</text>
<text transform="translate(643,230.31) scale(1,1.09)" text-anchor="middle" font-size="14.6" font-family="Liberation Sans, Arial, Helvetica, sans-serif">34</text>
<text transform="translate(643,253.80) scale(1,1.09)" text-anchor="middle" font-size="14.6" font-family="Liberation Sans, Arial, Helvetica, sans-serif">0</text>
<text transform="translate(643,277.29) scale(1,1.09)" text-anchor="middle" font-size="14.6" font-family="Liberation Sans, Arial, Helvetica, sans-serif">-34</text>
<text transform="translate(643,300.78) scale(1,1.09)" text-anchor="middle" font-size="14.6" font-family="Liberation Sans, Arial, Helvetica, sans-serif">-68</text>
<text transform="translate(643,324.27) scale(1,1.09)" text-anchor="middle" font-size="14.6" font-family="Liberation Sans, Arial, Helvetica, sans-serif">-102</text>
<text transform="translate(643,347.76) scale(1,1.09)" text-anchor="middle" font-size="14.6" font-family="Liberation Sans, Arial, Helvetica, sans-serif">-136</text>
<text transform="translate(643,371.25) scale(1,1.09)" text-anchor="middle" font-size="14.6" font-family="Liberation Sans, Arial, Helvetica, sans-serif">-170</text>
<text x="624.3" y="92.3" text-anchor="middle" font-size="22.8" font-family="Liberation Sans, Arial, Helvetica, sans-serif">m</text>
</g>
<g transform="translate(1391.0,838.0)">
<text transform="translate(312.2,36.1) scale(1,1.06)" text-anchor="middle" font-size="26.6" font-family="Liberation Sans, Arial, Helvetica, sans-serif">PBLH_ToPo_effect</text>
<g mask="url(#fr)"><g transform="translate(75,60) scale(0.23223)"><rect x="0" y="0" width="2100" height="1400" fill="url(#gk)"/><g filter="url(#bl)"><ellipse cx="760" cy="470" rx="120" ry="130" fill="#e8ebff"/><ellipse cx="440" cy="800" rx="70" ry="170" fill="#ffa6a6"/><ellipse cx="800" cy="1010" rx="200" ry="70" fill="#ffcaca"/><ellipse cx="1400" cy="760" rx="230" ry="220" fill="#ff3c3c"/><ellipse cx="1780" cy="400" rx="110" ry="170" fill="#ff1e1e"/><ellipse cx="1320" cy="800" rx="80" ry="70" fill="#ff1e1e"/><ellipse cx="300" cy="870" rx="210" ry="140" fill="#a6a6ff"/><ellipse cx="330" cy="820" rx="110" ry="60" fill="#8282ff"/><ellipse cx="460" cy="990" rx="60" ry="100" fill="#a6a6ff"/><ellipse cx="670" cy="270" rx="70" ry="45" fill="#a6a6ff"/><ellipse cx="410" cy="550" rx="40" ry="90" fill="#a6a6ff"/><ellipse cx="1000" cy="1180" rx="130" ry="60" fill="#ffeded"/><ellipse cx="1120" cy="1140" rx="60" ry="30" fill="#ff5f5f"/></g><g filter="url(#bl2)"><ellipse cx="520" cy="440" rx="22" ry="170" fill="#ff8585" transform="rotate(38 520 440)" opacity="0.8"/></g></g></g>
<use href="#lines"/>
<rect x="64.9" y="57.7" width="494.6" height="325.4" fill="none" stroke="#000" stroke-width="2.8"/>
<rect x="72.6" y="65.9" width="65.8" height="47.9" fill="#fff" stroke="#000" stroke-width="1.4"/>
<text x="105.5" y="97.3" text-anchor="middle" font-size="29" font-family="Liberation Sans, Arial, Helvetica, sans-serif" xml:space="preserve">( k )</text>
<path d="M54,96.6H64.9M54,157.0H64.9M54,217.4H64.9M54,277.8H64.9M54,338.2H64.9M105.3,383.1V393.7M226.4,383.1V393.7M347.5,383.1V393.7M468.6,383.1V393.7" stroke="#000" stroke-width="2.6" stroke-linecap="round"/>
<text x="46.6" y="101.2" text-anchor="end" font-size="13.4" font-family="Liberation Sans, Arial, Helvetica, sans-serif">32°N</text>
<text x="46.6" y="161.6" text-anchor="end" font-size="13.4" font-family="Liberation Sans, Arial, Helvetica, sans-serif">31°N</text>
<text x="46.6" y="222.0" text-anchor="end" font-size="13.4" font-family="Liberation Sans, Arial, Helvetica, sans-serif">30°N</text>
<text x="46.6" y="282.4" text-anchor="end" font-size="13.4" font-family="Liberation Sans, Arial, Helvetica, sans-serif">29°N</text>
<text x="46.6" y="342.8" text-anchor="end" font-size="13.4" font-family="Liberation Sans, Arial, Helvetica, sans-serif">28°N</text>
<text x="105.3" y="412.4" text-anchor="middle" font-size="13.4" font-family="Liberation Sans, Arial, Helvetica, sans-serif">102°E</text>
<text x="226.4" y="412.4" text-anchor="middle" font-size="13.4" font-family="Liberation Sans, Arial, Helvetica, sans-serif">104°E</text>
<text x="347.5" y="412.4" text-anchor="middle" font-size="13.4" font-family="Liberation Sans, Arial, Helvetica, sans-serif">106°E</text>
<text x="468.6" y="412.4" text-anchor="middle" font-size="13.4" font-family="Liberation Sans, Arial, Helvetica, sans-serif">108°E</text>
<rect x="591.5" y="366.25" width="29.0" height="12.05" fill="#060680"/>
<rect x="591.5" y="354.51" width="29.0" height="12.05" fill="#00009e"/>
<rect x="591.5" y="342.76" width="29.0" height="12.05" fill="#0808e0"/>
<rect x="591.5" y="331.02" width="29.0" height="12.05" fill="#0505ff"/>
<rect x="591.5" y="319.27" width="29.0" height="12.05" fill="#1010ff"/>
<rect x="591.5" y="307.53" width="29.0" height="12.05" fill="#4040ff"/>
<rect x="591.5" y="295.78" width="29.0" height="12.05" fill="#5f5fff"/>
<rect x="591.5" y="284.04" width="29.0" height="12.05" fill="#8282ff"/>
<rect x="591.5" y="272.29" width="29.0" height="12.05" fill="#a6a6ff"/>
<rect x="591.5" y="260.55" width="29.0" height="12.05" fill="#c9c9ff"/>
<rect x="591.5" y="248.80" width="29.0" height="12.05" fill="#e8ebff"/>
<rect x="591.5" y="237.05" width="29.0" height="12.05" fill="#ffeded"/>
<rect x="591.5" y="225.31" width="29.0" height="12.05" fill="#ffcaca"/>
<rect x="591.5" y="213.56" width="29.0" height="12.05" fill="#ffa6a6"/>
<rect x="591.5" y="201.82" width="29.0" height="12.05" fill="#ff8585"/>
<rect x="591.5" y="190.07" width="29.0" height="12.05" fill="#ff5f5f"/>
<rect x="591.5" y="178.33" width="29.0" height="12.05" fill="#ff3c3c"/>
<rect x="591.5" y="166.58" width="29.0" height="12.05" fill="#ff1e1e"/>
<rect x="591.5" y="154.84" width="29.0" height="12.05" fill="#ff0a0a"/>
<rect x="591.5" y="143.09" width="29.0" height="12.05" fill="#cc0000"/>
<rect x="591.5" y="131.35" width="29.0" height="12.05" fill="#b40000"/>
<rect x="591.5" y="119.60" width="29.0" height="12.05" fill="#930000"/>
<path d="M591.5,131.35H620.5M591.5,143.09H620.5M591.5,154.84H620.5M591.5,166.58H620.5M591.5,178.33H620.5M591.5,190.07H620.5M591.5,201.82H620.5M591.5,213.56H620.5M591.5,225.31H620.5M591.5,237.05H620.5M591.5,248.80H620.5M591.5,260.55H620.5M591.5,272.29H620.5M591.5,284.04H620.5M591.5,295.78H620.5M591.5,307.53H620.5M591.5,319.27H620.5M591.5,331.02H620.5M591.5,342.76H620.5M591.5,354.51H620.5M591.5,366.25H620.5" stroke="#000" stroke-width="1.5"/>
<rect x="591.5" y="119.6" width="29.0" height="258.4" fill="none" stroke="#000" stroke-width="1.6"/>
<text transform="translate(643,136.35) scale(1,1.09)" text-anchor="middle" font-size="14.6" font-family="Liberation Sans, Arial, Helvetica, sans-serif">440</text>
<text transform="translate(643,159.84) scale(1,1.09)" text-anchor="middle" font-size="14.6" font-family="Liberation Sans, Arial, Helvetica, sans-serif">352</text>
<text transform="translate(643,183.33) scale(1,1.09)" text-anchor="middle" font-size="14.6" font-family="Liberation Sans, Arial, Helvetica, sans-serif">264</text>
<text transform="translate(643,206.82) scale(1,1.09)" text-anchor="middle" font-size="14.6" font-family="Liberation Sans, Arial, Helvetica, sans-serif">176</text>
<text transform="translate(643,230.31) scale(1,1.09)" text-anchor="middle" font-size="14.6" font-family="Liberation Sans, Arial, Helvetica, sans-serif">88</text>
<text transform="translate(643,253.80) scale(1,1.09)" text-anchor="middle" font-size="14.6" font-family="Liberation Sans, Arial, Helvetica, sans-serif">0</text>
<text transform="translate(643,277.29) scale(1,1.09)" text-anchor="middle" font-size="14.6" font-family="Liberation Sans, Arial, Helvetica, sans-serif">-88</text>
<text transform="translate(643,300.78) scale(1,1.09)" text-anchor="middle" font-size="14.6" font-family="Liberation Sans, Arial, Helvetica, sans-serif">-176</text>
<text transform="translate(643,324.27) scale(1,1.09)" text-anchor="middle" font-size="14.6" font-family="Liberation Sans, Arial, Helvetica, sans-serif">-264</text>
<text transform="translate(643,347.76) scale(1,1.09)" text-anchor="middle" font-size="14.6" font-family="Liberation Sans, Arial, Helvetica, sans-serif">-352</text>
<text transform="translate(643,371.25) scale(1,1.09)" text-anchor="middle" font-size="14.6" font-family="Liberation Sans, Arial, Helvetica, sans-serif">-440</text>
<text x="624.3" y="92.3" text-anchor="middle" font-size="22.8" font-family="Liberation Sans, Arial, Helvetica, sans-serif">m</text>
</g>
<g transform="translate(1391.0,1257.0)">
<text transform="translate(312.2,36.1) scale(1,1.06)" text-anchor="middle" font-size="26.6" font-family="Liberation Sans, Arial, Helvetica, sans-serif">PBLH_Urban&amp;ToPo Interaction</text>
<g mask="url(#fr)"><g transform="translate(75,60) scale(0.23223)"><rect x="0" y="0" width="2100" height="1400" fill="url(#gl)"/><g filter="url(#bl)"><ellipse cx="1330" cy="430" rx="170" ry="130" fill="#5f5fff"/><ellipse cx="1420" cy="500" rx="60" ry="80" fill="#4040ff"/><ellipse cx="1390" cy="770" rx="50" ry="90" fill="#5f5fff" transform="rotate(-20 1390 770)"/><ellipse cx="1650" cy="380" rx="170" ry="120" fill="#a6a6ff"/><ellipse cx="1700" cy="600" rx="120" ry="100" fill="#a6a6ff"/><ellipse cx="1200" cy="820" rx="130" ry="130" fill="#ffcaca"/><ellipse cx="640" cy="700" rx="230" ry="170" fill="#ff5f5f"/><ellipse cx="620" cy="520" rx="90" ry="60" fill="#ff3c3c"/><ellipse cx="180" cy="850" rx="90" ry="70" fill="#ff1e1e"/><ellipse cx="650" cy="1000" rx="200" ry="90" fill="#ffcaca"/><ellipse cx="1000" cy="1150" rx="140" ry="90" fill="#ffeded"/><ellipse cx="1150" cy="1230" rx="80" ry="50" fill="#ffcaca"/><ellipse cx="900" cy="850" rx="150" ry="100" fill="#ffa6a6"/></g></g></g>
<use href="#lines"/>
<rect x="64.9" y="57.7" width="494.6" height="325.4" fill="none" stroke="#000" stroke-width="2.8"/>
<rect x="72.6" y="65.9" width="57.9" height="47.9" fill="#fff" stroke="#000" stroke-width="1.4"/>
<text x="101.5" y="97.3" text-anchor="middle" font-size="29" font-family="Liberation Sans, Arial, Helvetica, sans-serif" xml:space="preserve">( l )</text>
<path d="M54,96.6H64.9M54,157.0H64.9M54,217.4H64.9M54,277.8H64.9M54,338.2H64.9M105.3,383.1V393.7M226.4,383.1V393.7M347.5,383.1V393.7M468.6,383.1V393.7" stroke="#000" stroke-width="2.6" stroke-linecap="round"/>
<text x="46.6" y="101.2" text-anchor="end" font-size="13.4" font-family="Liberation Sans, Arial, Helvetica, sans-serif">32°N</text>
<text x="46.6" y="161.6" text-anchor="end" font-size="13.4" font-family="Liberation Sans, Arial, Helvetica, sans-serif">31°N</text>
<text x="46.6" y="222.0" text-anchor="end" font-size="13.4" font-family="Liberation Sans, Arial, Helvetica, sans-serif">30°N</text>
<text x="46.6" y="282.4" text-anchor="end" font-size="13.4" font-family="Liberation Sans, Arial, Helvetica, sans-serif">29°N</text>
<text x="46.6" y="342.8" text-anchor="end" font-size="13.4" font-family="Liberation Sans, Arial, Helvetica, sans-serif">28°N</text>
<text x="105.3" y="412.4" text-anchor="middle" font-size="13.4" font-family="Liberation Sans, Arial, Helvetica, sans-serif">102°E</text>
<text x="226.4" y="412.4" text-anchor="middle" font-size="13.4" font-family="Liberation Sans, Arial, Helvetica, sans-serif">104°E</text>
<text x="347.5" y="412.4" text-anchor="middle" font-size="13.4" font-family="Liberation Sans, Arial, Helvetica, sans-serif">106°E</text>
<text x="468.6" y="412.4" text-anchor="middle" font-size="13.4" font-family="Liberation Sans, Arial, Helvetica, sans-serif">108°E</text>
<rect x="591.5" y="366.25" width="29.0" height="12.05" fill="#060680"/>
<rect x="591.5" y="354.51" width="29.0" height="12.05" fill="#00009e"/>
<rect x="591.5" y="342.76" width="29.0" height="12.05" fill="#0808e0"/>
<rect x="591.5" y="331.02" width="29.0" height="12.05" fill="#0505ff"/>
<rect x="591.5" y="319.27" width="29.0" height="12.05" fill="#1010ff"/>
<rect x="591.5" y="307.53" width="29.0" height="12.05" fill="#4040ff"/>
<rect x="591.5" y="295.78" width="29.0" height="12.05" fill="#5f5fff"/>
<rect x="591.5" y="284.04" width="29.0" height="12.05" fill="#8282ff"/>
<rect x="591.5" y="272.29" width="29.0" height="12.05" fill="#a6a6ff"/>
<rect x="591.5" y="260.55" width="29.0" height="12.05" fill="#c9c9ff"/>
<rect x="591.5" y="248.80" width="29.0" height="12.05" fill="#e8ebff"/>
<rect x="591.5" y="237.05" width="29.0" height="12.05" fill="#ffeded"/>
<rect x="591.5" y="225.31" width="29.0" height="12.05" fill="#ffcaca"/>
<rect x="591.5" y="213.56" width="29.0" height="12.05" fill="#ffa6a6"/>
<rect x="591.5" y="201.82" width="29.0" height="12.05" fill="#ff8585"/>
<rect x="591.5" y="190.07" width="29.0" height="12.05" fill="#ff5f5f"/>
<rect x="591.5" y="178.33" width="29.0" height="12.05" fill="#ff3c3c"/>
<rect x="591.5" y="166.58" width="29.0" height="12.05" fill="#ff1e1e"/>
<rect x="591.5" y="154.84" width="29.0" height="12.05" fill="#ff0a0a"/>
<rect x="591.5" y="143.09" width="29.0" height="12.05" fill="#cc0000"/>
<rect x="591.5" y="131.35" width="29.0" height="12.05" fill="#b40000"/>
<rect x="591.5" y="119.60" width="29.0" height="12.05" fill="#930000"/>
<path d="M591.5,131.35H620.5M591.5,143.09H620.5M591.5,154.84H620.5M591.5,166.58H620.5M591.5,178.33H620.5M591.5,190.07H620.5M591.5,201.82H620.5M591.5,213.56H620.5M591.5,225.31H620.5M591.5,237.05H620.5M591.5,248.80H620.5M591.5,260.55H620.5M591.5,272.29H620.5M591.5,284.04H620.5M591.5,295.78H620.5M591.5,307.53H620.5M591.5,319.27H620.5M591.5,331.02H620.5M591.5,342.76H620.5M591.5,354.51H620.5M591.5,366.25H620.5" stroke="#000" stroke-width="1.5"/>
<rect x="591.5" y="119.6" width="29.0" height="258.4" fill="none" stroke="#000" stroke-width="1.6"/>
<text transform="translate(643,136.35) scale(1,1.09)" text-anchor="middle" font-size="14.6" font-family="Liberation Sans, Arial, Helvetica, sans-serif">190</text>
<text transform="translate(643,159.84) scale(1,1.09)" text-anchor="middle" font-size="14.6" font-family="Liberation Sans, Arial, Helvetica, sans-serif">152</text>
<text transform="translate(643,183.33) scale(1,1.09)" text-anchor="middle" font-size="14.6" font-family="Liberation Sans, Arial, Helvetica, sans-serif">114</text>
<text transform="translate(643,206.82) scale(1,1.09)" text-anchor="middle" font-size="14.6" font-family="Liberation Sans, Arial, Helvetica, sans-serif">76</text>
<text transform="translate(643,230.31) scale(1,1.09)" text-anchor="middle" font-size="14.6" font-family="Liberation Sans, Arial, Helvetica, sans-serif">38</text>
<text transform="translate(643,253.80) scale(1,1.09)" text-anchor="middle" font-size="14.6" font-family="Liberation Sans, Arial, Helvetica, sans-serif">0</text>
<text transform="translate(643,277.29) scale(1,1.09)" text-anchor="middle" font-size="14.6" font-family="Liberation Sans, Arial, Helvetica, sans-serif">-38</text>
<text transform="translate(643,300.78) scale(1,1.09)" text-anchor="middle" font-size="14.6" font-family="Liberation Sans, Arial, Helvetica, sans-serif">-76</text>
<text transform="translate(643,324.27) scale(1,1.09)" text-anchor="middle" font-size="14.6" font-family="Liberation Sans, Arial, Helvetica, sans-serif">-114</text>
<text transform="translate(643,347.76) scale(1,1.09)" text-anchor="middle" font-size="14.6" font-family="Liberation Sans, Arial, Helvetica, sans-serif">-152</text>
<text transform="translate(643,371.25) scale(1,1.09)" text-anchor="middle" font-size="14.6" font-family="Liberation Sans, Arial, Helvetica, sans-serif">-190</text>
<text x="624.3" y="92.3" text-anchor="middle" font-size="22.8" font-family="Liberation Sans, Arial, Helvetica, sans-serif">m</text>
</g>
</svg></body></html>
